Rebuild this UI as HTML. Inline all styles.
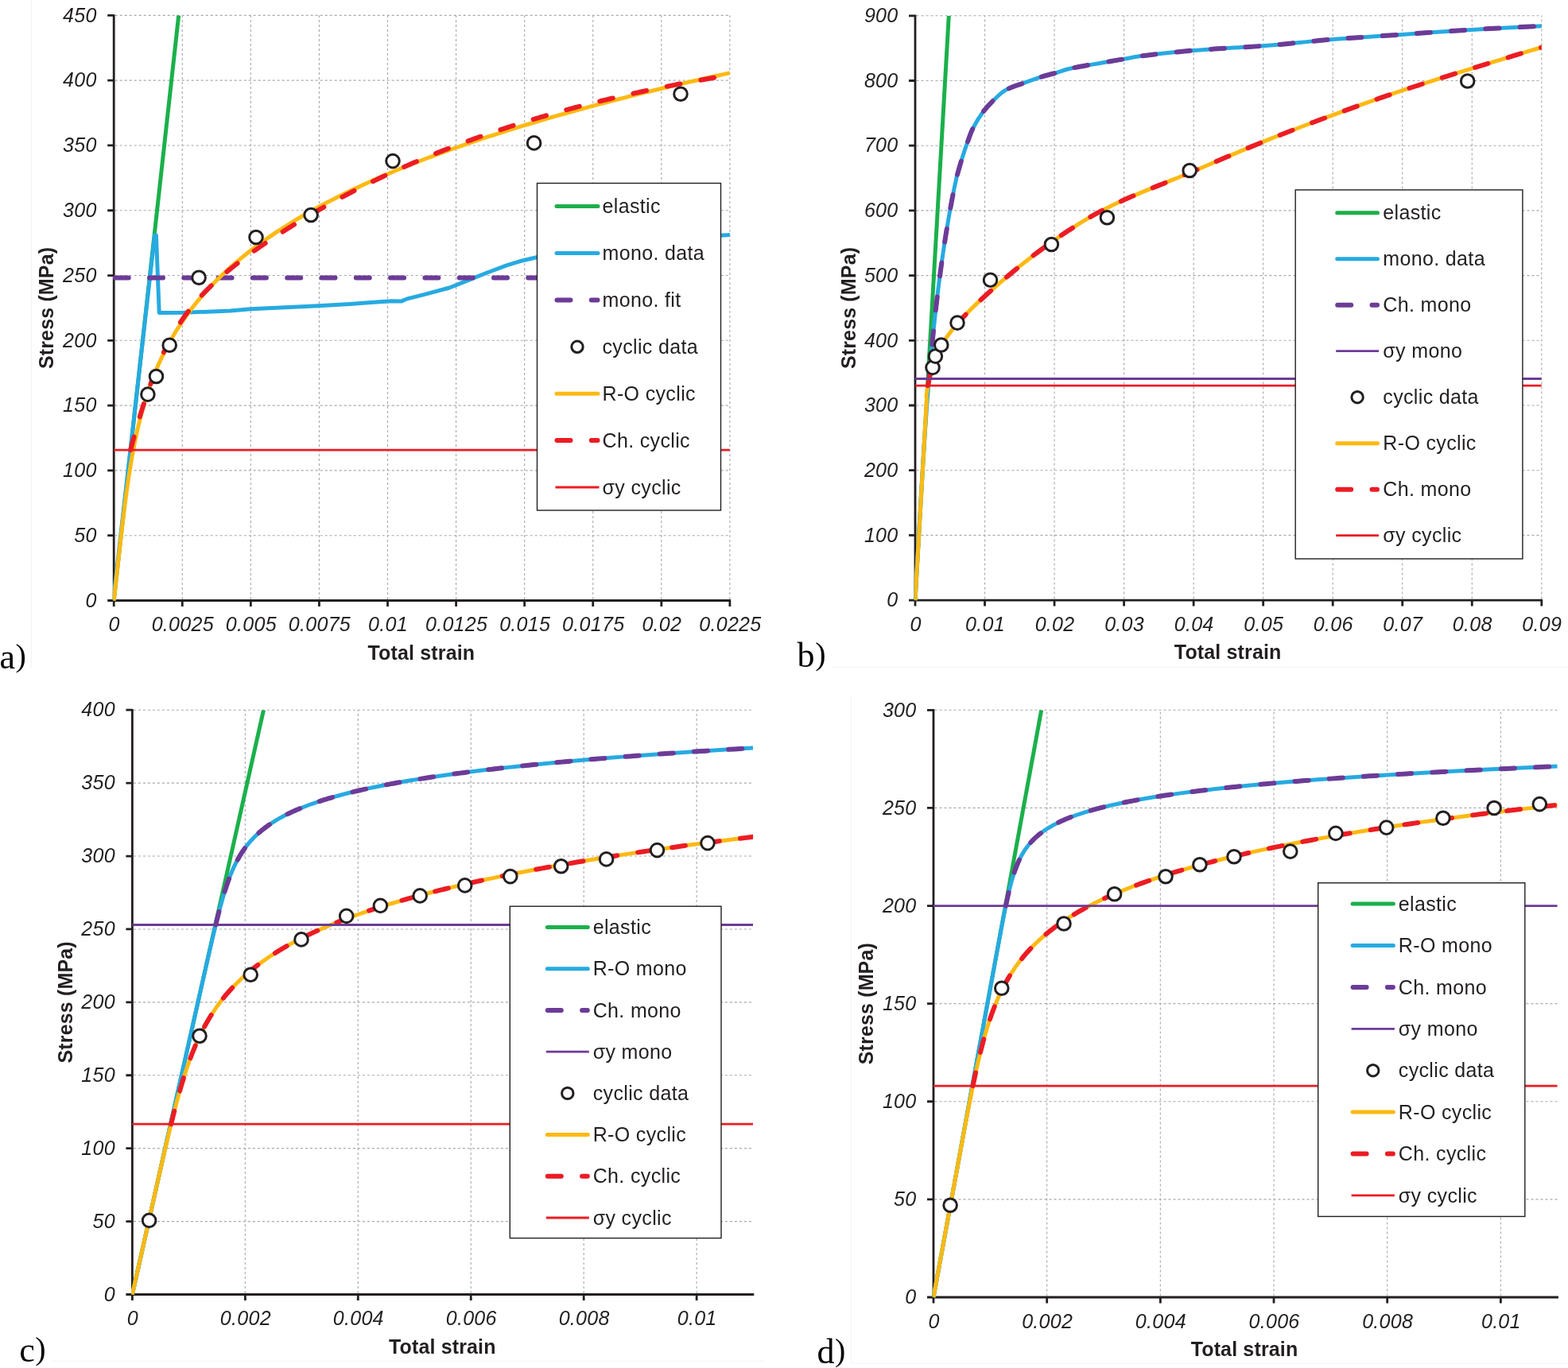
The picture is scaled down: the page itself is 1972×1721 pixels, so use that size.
<!DOCTYPE html>
<html><head><meta charset="utf-8"><title>Stress-strain curves</title>
<style>
html,body{margin:0;padding:0;background:#fff;}
body{width:1972px;height:1721px;overflow:hidden;}
svg{display:block;}
.tick text{font-family:"Liberation Sans",Arial,sans-serif;font-style:italic;font-size:25px;letter-spacing:0.3px;fill:#231f20;}
.ttl{font-family:"Liberation Sans",Arial,sans-serif;font-weight:bold;font-size:25px;letter-spacing:0.15px;fill:#231f20;}
.leg text{font-family:"Liberation Sans",Arial,sans-serif;font-size:25px;letter-spacing:0.35px;fill:#231f20;}
.pl text{font-family:"Liberation Serif","Times New Roman",serif;font-size:44px;fill:#000;}
</style></head><body>
<svg width="1972" height="1721" viewBox="0 0 1972 1721">
<rect width="1972" height="1721" fill="#fff"/>
<defs>
<clipPath id="clipA"><rect x="141.8" y="19.35" width="776.1" height="737.55"/></clipPath>
<clipPath id="clipB"><rect x="1149.6" y="19.8" width="789.2" height="736.7"/></clipPath>
<clipPath id="clipC"><rect x="165" y="893.2" width="782.1" height="736.7"/></clipPath>
<clipPath id="clipD"><rect x="1172.6" y="893.3" width="786.1" height="740.1"/></clipPath>
</defs>
<path d="M39.4 0V840.6M1046 839.3H1972M63.9 1712.3H960M1070.5 873.6V1715.2H1972" stroke="#f3f3f3" stroke-width="1" fill="none"/>
<path d="M144.7 673.71H917.9M144.7 591.91H917.9M144.7 510.12H917.9M144.7 428.32H917.9M144.7 346.53H917.9M144.7 264.73H917.9M144.7 182.94H917.9M144.7 101.14H917.9M144.7 19.35H917.9M229.28 754V19.35M315.36 754V19.35M401.43 754V19.35M487.51 754V19.35M573.59 754V19.35M659.67 754V19.35M745.74 754V19.35M831.82 754V19.35M917.9 754V19.35" stroke="#a6a8ab" stroke-width="1.1" stroke-dasharray="3 3" fill="none"/>
<path d="M143.2 18.15V755.5H919.1M135.2 755.5H143.2M135.2 673.71H143.2M135.2 591.91H143.2M135.2 510.12H143.2M135.2 428.32H143.2M135.2 346.53H143.2M135.2 264.73H143.2M135.2 182.94H143.2M135.2 101.14H143.2M135.2 19.35H143.2M143.2 755.5V763M229.28 755.5V763M315.36 755.5V763M401.43 755.5V763M487.51 755.5V763M573.59 755.5V763M659.67 755.5V763M745.74 755.5V763M831.82 755.5V763M917.9 755.5V763" stroke="#231f20" stroke-width="2.8" fill="none" stroke-linecap="butt" stroke-linejoin="miter"/>
<path d="M143.2 755.5L224.7 19.35" stroke="#1bb04b" stroke-width="5.0" fill="none" stroke-linejoin="round" stroke-linecap="butt" clip-path="url(#clipA)"/>
<path d="M142.5 755.5L194.5 296.3L196.4 296.1L200.2 393.4L230.2 393.3L289.5 391.1L315.4 388.8L400.6 384.7L440 382.4L466.4 380.4L492.7 378.8L504.6 379.1L511.2 376.2L532.3 370.9L565.2 362L585 354.1L611.4 343.5L637.8 333.6L657.5 327.7L674.7 323.7L720 314.5L780 306.5L840 301L901.3 296.4L918.5 295.4" stroke="#27aae1" stroke-width="5.0" fill="none" stroke-linejoin="round" stroke-linecap="butt" clip-path="url(#clipA)"/>
<path d="M144.7 349.5H917.9" stroke="#6c3b97" stroke-width="6.0" fill="none" stroke-linejoin="round" stroke-dasharray="17 26.3" stroke-linecap="round" clip-path="url(#clipA)"/>
<path d="M143.2 755.5L143.47 753.04L143.74 750.58L144.02 748.13L144.29 745.67L144.56 743.21L144.83 740.75L145.1 738.29L145.38 735.84L145.65 733.38L145.92 730.92L146.19 728.46L146.47 726L146.74 723.55L147.01 721.09L147.29 718.63L147.56 716.17L147.83 713.72L148.11 711.26L148.38 708.8L148.65 706.34L148.93 703.88L149.2 701.43L149.48 698.97L149.76 696.51L150.03 694.05L150.31 691.59L150.59 689.14L150.87 686.68L151.15 684.22L151.43 681.76L151.71 679.3L151.99 676.85L152.28 674.39L152.56 671.93L152.85 669.47L153.13 667.01L153.42 664.56L153.71 662.1L154.01 659.64L154.3 657.18L154.6 654.72L154.89 652.27L155.19 649.81L155.5 647.35L155.8 644.89L156.11 642.44L156.42 639.98L156.73 637.52L157.04 635.06L157.36 632.6L157.68 630.15L158.01 627.69L158.33 625.23L158.66 622.77L159 620.31L159.34 617.86L159.68 615.4L160.02 612.94L160.37 610.48L160.73 608.02L161.09 605.57L161.45 603.11L161.82 600.65L162.2 598.19L162.57 595.73L162.96 593.28L163.35 590.82L163.75 588.36L164.15 585.9L164.56 583.44L164.97 580.99L165.39 578.53L165.82 576.07L166.26 573.61L166.7 571.16L167.15 568.7L167.61 566.24L168.08 563.78L168.55 561.32L169.03 558.87L169.52 556.41L170.03 553.95L170.54 551.49L171.05 549.03L171.58 546.58L172.12 544.12L172.67 541.66L173.23 539.2L173.8 536.74L174.38 534.29L174.97 531.83L175.58 529.37L176.19 526.91L176.82 524.45L177.46 522L178.12 519.54L178.78 517.08L179.46 514.62L180.16 512.16L180.86 509.71L181.59 507.25L182.32 504.79L183.07 502.33L183.84 499.88L184.62 497.42L185.42 494.96L186.24 492.5L187.07 490.04L187.92 487.59L188.78 485.13L189.66 482.67L190.57 480.21L191.49 477.75L192.42 475.3L193.38 472.84L194.36 470.38L195.36 467.92L196.37 465.46L197.41 463.01L198.47 460.55L199.55 458.09L200.66 455.63L201.78 453.17L202.93 450.72L204.1 448.26L205.29 445.8L206.51 443.34L207.76 440.88L209.02 438.43L210.32 435.97L211.64 433.51L212.98 431.05L214.35 428.6L215.75 426.14L217.18 423.68L218.63 421.22L220.11 418.76L221.62 416.31L223.16 413.85L224.74 411.39L226.34 408.93L227.97 406.47L229.63 404.02L231.33 401.56L233.05 399.1L233.93 397.87L234.81 396.64L235.71 395.41L236.61 394.18L237.52 392.96L238.43 391.73L239.36 390.5L240.3 389.27L241.24 388.04L242.19 386.81L243.15 385.58L244.12 384.35L245.1 383.12L246.09 381.89L247.09 380.67L248.1 379.44L249.11 378.21L250.14 376.98L251.17 375.75L252.22 374.52L253.27 373.29L254.33 372.06L255.41 370.83L256.49 369.61L257.58 368.38L258.68 367.15L259.8 365.92L260.92 364.69L262.05 363.46L263.19 362.23L264.35 361L265.51 359.77L266.68 358.54L267.87 357.32L269.06 356.09L270.26 354.86L271.48 353.63L272.71 352.4L273.94 351.17L275.19 349.94L276.45 348.71L277.72 347.48L279 346.25L280.29 345.03L281.6 343.8L282.91 342.57L284.24 341.34L285.58 340.11L286.92 338.88L288.29 337.65L289.66 336.42L291.04 335.19L292.44 333.97L293.85 332.74L295.27 331.51L296.7 330.28L298.14 329.05L299.6 327.82L301.07 326.59L302.55 325.36L304.04 324.13L305.55 322.9L307.07 321.68L308.6 320.45L310.15 319.22L311.7 317.99L313.27 316.76L314.86 315.53L316.45 314.3L318.06 313.07L319.69 311.84L321.32 310.61L322.97 309.39L324.64 308.16L326.31 306.93L328 305.7L329.71 304.47L331.43 303.24L333.16 302.01L334.91 300.78L336.67 299.55L338.44 298.33L340.23 297.1L342.03 295.87L343.85 294.64L345.69 293.41L347.53 292.18L349.39 290.95L351.27 289.72L353.16 288.49L355.07 287.26L356.99 286.04L358.93 284.81L360.88 283.58L362.85 282.35L364.83 281.12L366.83 279.89L368.85 278.66L370.88 277.43L372.92 276.2L374.98 274.97L377.06 273.75L379.16 272.52L381.27 271.29L383.39 270.06L385.53 268.83L387.69 267.6L389.87 266.37L392.06 265.14L394.27 263.91L396.5 262.69L398.74 261.46L401 260.23L403.28 259L405.57 257.77L407.88 256.54L410.21 255.31L412.56 254.08L414.92 252.85L417.3 251.62L419.7 250.4L422.12 249.17L424.55 247.94L427.01 246.71L429.48 245.48L431.97 244.25L434.48 243.02L437 241.79L439.55 240.56L442.11 239.33L444.69 238.11L447.29 236.88L449.91 235.65L452.55 234.42L455.21 233.19L457.89 231.96L460.59 230.73L463.3 229.5L466.04 228.27L468.8 227.05L471.57 225.82L474.37 224.59L477.18 223.36L480.02 222.13L482.88 220.9L485.75 219.67L488.65 218.44L491.56 217.21L494.5 215.98L497.46 214.76L500.44 213.53L503.44 212.3L506.46 211.07L509.5 209.84L512.57 208.61L515.65 207.38L518.76 206.15L521.89 204.92L525.04 203.69L528.21 202.47L531.4 201.24L534.62 200.01L537.85 198.78L541.11 197.55L544.39 196.32L547.7 195.09L551.02 193.86L554.37 192.63L557.75 191.41L561.14 190.18L564.56 188.95L568 187.72L571.47 186.49L574.95 185.26L578.46 184.03L582 182.8L585.56 181.57L589.14 180.34L592.75 179.12L596.38 177.89L600.03 176.66L603.71 175.43L607.41 174.2L611.14 172.97L614.89 171.74L618.67 170.51L622.47 169.28L626.3 168.05L630.15 166.83L634.02 165.6L637.93 164.37L641.85 163.14L645.81 161.91L649.78 160.68L653.79 159.45L657.82 158.22L661.87 156.99L665.96 155.77L670.06 154.54L674.2 153.31L678.36 152.08L682.55 150.85L686.76 149.62L691 148.39L695.27 147.16L699.57 145.93L703.89 144.7L708.24 143.48L712.62 142.25L717.02 141.02L721.46 139.79L725.92 138.56L730.4 137.33L734.92 136.1L739.47 134.87L744.04 133.64L748.64 132.41L753.27 131.19L757.93 129.96L762.62 128.73L767.33 127.5L772.08 126.27L776.85 125.04L781.66 123.81L786.49 122.58L791.35 121.35L796.25 120.13L801.17 118.9L806.12 117.67L811.11 116.44L816.12 115.21L821.16 113.98L826.24 112.75L831.34 111.52L836.48 110.29L841.64 109.06L846.84 107.84L852.07 106.61L857.33 105.38L862.62 104.15L867.94 102.92L873.3 101.69L878.68 100.46L884.1 99.23L889.55 98L895.03 96.77L900.55 95.55L906.09 94.32L911.67 93.09L917.29 91.86L917.9 91.73" stroke="#fdb913" stroke-width="5.0" fill="none" stroke-linejoin="round" stroke-linecap="butt" clip-path="url(#clipA)"/>
<path d="M164.17 566.1L164.55 564.65L164.93 563.19L165.31 561.73L165.7 560.27L166.09 558.79L166.48 557.34L166.87 555.86L167.27 554.37L167.67 552.89L168.08 551.4L168.48 549.94L168.88 548.48L169.29 546.98L169.7 545.51L170.11 544.02L170.53 542.52L170.95 541.03L171.37 539.55L171.78 538.1L172.22 536.57L172.65 535.09L173.1 533.53L173.53 532.04L173.99 530.48L174.42 529L174.88 527.47L175.31 526.03L175.75 524.54L176.21 523L176.69 521.41L177.14 519.94L177.61 518.43L178.09 516.88L178.58 515.29L179.04 513.84L179.5 512.35L179.99 510.83L180.48 509.28L180.99 507.69L181.52 506.06L181.99 504.61L182.48 503.14L182.97 501.63L183.48 500.1L184.01 498.54L184.54 496.96L185.09 495.35L185.66 493.71L186.15 492.28L186.66 490.83L187.17 489.37L187.7 487.88L188.24 486.37L188.79 484.85L189.35 483.3L189.92 481.74L190.5 480.15L191.1 478.55L191.71 476.93L192.33 475.29L192.97 473.64L193.62 471.96L194.17 470.55L194.73 469.13L195.3 467.7L195.88 466.25L196.47 464.8L197.07 463.33L197.68 461.85L198.3 460.36L198.93 458.86L199.58 457.35L200.23 455.83L200.89 454.3L201.57 452.76L202.26 451.22L202.96 449.66L203.67 448.09L204.39 446.52L205.12 444.94L205.87 443.35L206.63 441.75L207.41 440.15L208.19 438.54L208.99 436.92L209.81 435.29L210.63 433.66L211.47 432.03L212.33 430.39L213.2 428.74L214.08 427.09L214.8 425.77L215.53 424.45L216.27 423.12L217.02 421.79L217.78 420.46L218.55 419.12L219.33 417.79L220.12 416.45L220.92 415.11L221.73 413.77L222.55 412.42L223.39 411.08L224.23 409.74L225.09 408.39L225.96 407.04L226.84 405.7L227.73 404.35L228.64 403L229.56 401.65L230.49 400.3L231.43 398.95L232.39 397.6L233.36 396.25L234.35 394.9L235.35 393.55L236.36 392.2L237.38 390.85L238.43 389.49L239.48 388.14L240.55 386.79L241.64 385.44L242.74 384.08L243.86 382.73L245 381.37L246.15 380.02L247.31 378.66L248.5 377.31L249.7 375.95L250.92 374.59L252.16 373.23L253.41 371.87L254.68 370.51L255.98 369.14L257.29 367.77L258.62 366.41L259.97 365.04L261.34 363.66L262.73 362.29L264.14 360.91L265.58 359.52L266.67 358.48L267.77 357.44L268.88 356.4L270.01 355.35L271.15 354.31L272.3 353.26L273.47 352.2L274.65 351.15L275.84 350.09L277.04 349.03L278.26 347.96L279.5 346.89L280.75 345.82L282.01 344.74L283.29 343.67L284.58 342.58L285.88 341.5L287.21 340.4L288.54 339.31L289.9 338.21L291.27 337.1L292.65 336L294.05 334.88L295.47 333.76L296.9 332.64L298.35 331.51L299.82 330.38L301.31 329.24L302.81 328.09L304.33 326.94L305.87 325.78L307.43 324.62L309 323.45L310.59 322.27L312.21 321.09L313.84 319.9L315.49 318.71L317.16 317.51L318.85 316.3L320.56 315.08L322.29 313.86L324.04 312.63L325.81 311.39L327.61 310.14L329.42 308.89L331.26 307.63L333.11 306.36L334.37 305.51L335.63 304.66L336.9 303.8L338.18 302.94L339.47 302.08L340.77 301.21L342.08 300.34L343.41 299.46L344.74 298.58L346.08 297.7L347.44 296.82L348.8 295.93L350.18 295.03L351.56 294.14L352.96 293.23L354.37 292.33L355.79 291.42L357.22 290.51L358.66 289.59L360.12 288.67L361.58 287.75L363.06 286.82L364.55 285.89L366.05 284.95L367.57 284.01L369.09 283.07L370.63 282.12L372.18 281.17L373.74 280.22L375.31 279.26L376.9 278.3L378.5 277.33L380.11 276.36L381.74 275.39L383.38 274.41L385.03 273.43L386.69 272.44L388.37 271.45L390.06 270.46L391.77 269.46L393.48 268.46L395.22 267.45L396.96 266.44L398.72 265.43L400.49 264.42L402.28 263.39L404.08 262.37L405.9 261.34L407.73 260.31L409.58 259.28L411.44 258.24L413.31 257.19L415.2 256.15L417.1 255.1L419.02 254.04L420.96 252.99L422.91 251.93L424.88 250.86L426.86 249.79L428.86 248.72L430.87 247.65L432.9 246.57L434.94 245.49L437.01 244.4L439.08 243.31L441.18 242.22L443.29 241.13L445.42 240.03L447.56 238.93L449.72 237.82L451.9 236.71L454.1 235.6L456.31 234.49L458.55 233.37L460.8 232.25L463.06 231.13L465.35 230L467.65 228.87L469.97 227.74L472.31 226.61L474.67 225.47L477.05 224.33L479.45 223.19L481.86 222.04L484.3 220.9L486.75 219.75L489.22 218.59L491.72 217.44L494.23 216.28L496.76 215.12L499.31 213.96L501.89 212.8L504.48 211.63L507.09 210.46L509.73 209.29L512.38 208.12L515.06 206.95L517.76 205.77L520.48 204.59L523.22 203.41L525.98 202.23L527.37 201.64L528.76 201.05L530.16 200.46L531.57 199.87L532.98 199.28L534.4 198.68L535.82 198.09L537.25 197.5L538.68 196.9L540.12 196.31L541.57 195.71L543.02 195.12L544.48 194.52L545.94 193.93L547.41 193.33L548.88 192.74L550.36 192.14L551.85 191.55L553.34 190.95L554.84 190.35L556.34 189.76L557.85 189.16L559.36 188.56L560.89 187.96L562.41 187.37L563.95 186.77L565.49 186.17L567.03 185.57L568.58 184.97L570.14 184.37L571.71 183.78L573.28 183.18L574.85 182.58L576.43 181.98L578.02 181.38L579.62 180.78L581.22 180.18L582.83 179.58L584.44 178.98L586.06 178.38L587.69 177.78L589.32 177.19L590.96 176.59L592.61 175.99L594.26 175.39L595.92 174.79L597.59 174.19L599.26 173.59L600.94 172.99L602.62 172.39L604.32 171.79L606.01 171.19L607.72 170.59L609.43 170L611.15 169.4L612.88 168.8L614.61 168.2L616.35 167.6L618.1 167L619.85 166.41L621.61 165.81L623.38 165.21L625.15 164.61L626.93 164.02L628.72 163.42L630.52 162.82L632.32 162.23L634.13 161.63L635.95 161.03L637.77 160.44L639.6 159.84L641.44 159.25L643.28 158.65L645.14 158.06L647 157.46L648.87 156.87L650.74 156.28L652.62 155.68L654.51 155.09L656.41 154.5L658.32 153.91L660.23 153.32L662.15 152.73L664.07 152.13L666.01 151.54L667.95 150.96L669.9 150.37L671.86 149.78L673.83 149.19L675.8 148.6L677.78 148.01L679.77 147.43L681.77 146.84L683.77 146.26L685.79 145.67L687.81 145.09L689.84 144.5L691.87 143.92L693.92 143.34L695.97 142.76L698.03 142.17L700.1 141.59L702.18 141.01L704.27 140.43L706.36 139.86L708.46 139.28L710.57 138.7L712.69 138.12L714.82 137.55L716.95 136.97L719.1 136.4L721.25 135.82L723.41 135.25L725.58 134.68L727.76 134.11L729.95 133.54L732.14 132.97L734.35 132.4L736.56 131.83L738.78 131.26L741.01 130.7L743.25 130.13L745.5 129.57L747.76 129.01L750.02 128.44L752.3 127.88L754.58 127.32L756.88 126.76L759.18 126.2L761.49 125.64L763.81 125.09L766.14 124.53L768.48 123.98L770.83 123.42L773.18 122.87L775.55 122.32L777.93 121.77L780.31 121.22L782.71 120.67L785.11 120.12L787.53 119.58L789.95 119.03L792.38 118.49L794.83 117.94L797.28 117.4L799.74 116.86L802.21 116.32L804.7 115.78L807.19 115.25L809.69 114.71L812.2 114.18L814.72 113.64L817.25 113.11L819.79 112.58L822.35 112.05L824.91 111.52L827.48 110.99L830.06 110.47L832.65 109.94L835.26 109.42L837.87 108.9L840.49 108.38L843.13 107.86L845.77 107.34L848.43 106.83L851.09 106.31L853.77 105.8L856.45 105.28L859.15 104.77L861.86 104.26L864.58 103.76L867.31 103.25L870.05 102.74L872.8 102.24L875.56 101.74L878.33 101.24L881.12 100.74L883.91 100.24L886.72 99.75L889.54 99.25L892.37 98.76L895.21 98.27L898.06 97.78L900.92 97.29L903.79 96.8L906.68 96.32L909.58 95.83L912.48 95.35L915.4 94.87L917.9 94.46" stroke="#ec1c24" stroke-width="6.0" fill="none" stroke-linejoin="round" stroke-dasharray="17 26.3" stroke-linecap="round" clip-path="url(#clipA)"/>
<path d="M143.2 566.1H917.9" stroke="#ec1c24" stroke-width="2.8" fill="none" clip-path="url(#clipA)"/>
<g fill="#fff" stroke="#231f20" stroke-width="3"><circle cx="185.9" cy="496.1" r="8.3"/><circle cx="196.5" cy="473.5" r="8.3"/><circle cx="213.2" cy="434.2" r="8.3"/><circle cx="250.1" cy="349.2" r="8.3"/><circle cx="322" cy="298.5" r="8.3"/><circle cx="391.1" cy="270.5" r="8.3"/><circle cx="494" cy="202.6" r="8.3"/><circle cx="671.6" cy="179.9" r="8.3"/><circle cx="856" cy="118.3" r="8.3"/></g>
<g class="tick"><text x="121.7" y="763.7" text-anchor="end">0</text><text x="121.7" y="681.91" text-anchor="end">50</text><text x="121.7" y="600.11" text-anchor="end">100</text><text x="121.7" y="518.32" text-anchor="end">150</text><text x="121.7" y="436.52" text-anchor="end">200</text><text x="121.7" y="354.73" text-anchor="end">250</text><text x="121.7" y="272.93" text-anchor="end">300</text><text x="121.7" y="191.14" text-anchor="end">350</text><text x="121.7" y="109.34" text-anchor="end">400</text><text x="121.7" y="27.55" text-anchor="end">450</text><text x="143.7" y="794" text-anchor="middle">0</text><text x="229.78" y="794" text-anchor="middle">0.0025</text><text x="315.86" y="794" text-anchor="middle">0.005</text><text x="401.93" y="794" text-anchor="middle">0.0075</text><text x="488.01" y="794" text-anchor="middle">0.01</text><text x="574.09" y="794" text-anchor="middle">0.0125</text><text x="660.17" y="794" text-anchor="middle">0.015</text><text x="746.24" y="794" text-anchor="middle">0.0175</text><text x="832.32" y="794" text-anchor="middle">0.02</text><text x="918.4" y="794" text-anchor="middle">0.0225</text></g>
<text class="ttl" x="529.9" y="829.8" text-anchor="middle">Total strain</text>
<text class="ttl" transform="translate(67.4 387.43) rotate(-90)" text-anchor="middle">Stress (MPa)</text>
<rect x="675.5" y="230.5" width="231" height="411.5" fill="#fff" stroke="#231f20" stroke-width="1.4"/>
<path d="M700 259.6H752" stroke="#1bb04b" stroke-width="5.0" stroke-linecap="round"/>
<path d="M700 318.5H752" stroke="#27aae1" stroke-width="5.0" stroke-linecap="round"/>
<path d="M700.5 377.4H751.5" stroke="#6c3b97" stroke-width="6.0" stroke-linecap="round" stroke-dasharray="17 26.3"/>
<circle cx="726" cy="436.3" r="7.2" fill="#fff" stroke="#231f20" stroke-width="3"/>
<path d="M700 495.2H752" stroke="#fdb913" stroke-width="5.0" stroke-linecap="round"/>
<path d="M700.5 554.1H751.5" stroke="#ec1c24" stroke-width="6.0" stroke-linecap="round" stroke-dasharray="17 26.3"/>
<path d="M698.5 613H753.5" stroke="#ec1c24" stroke-width="2.8"/>
<g class="leg"><text x="757.5" y="268.2">elastic</text><text x="757.5" y="327.1">mono. data</text><text x="757.5" y="386">mono. fit</text><text x="757.5" y="444.9">cyclic data</text><text x="757.5" y="503.8">R-O cyclic</text><text x="757.5" y="562.7">Ch. cyclic</text><text x="757.5" y="621.6">σy cyclic</text></g>
<path d="M1152.5 673.4H1938.8M1152.5 591.7H1938.8M1152.5 510H1938.8M1152.5 428.3H1938.8M1152.5 346.6H1938.8M1152.5 264.9H1938.8M1152.5 183.2H1938.8M1152.5 101.5H1938.8M1152.5 19.8H1938.8M1238.53 753.6V19.8M1326.07 753.6V19.8M1413.6 753.6V19.8M1501.13 753.6V19.8M1588.67 753.6V19.8M1676.2 753.6V19.8M1763.73 753.6V19.8M1851.27 753.6V19.8M1938.8 753.6V19.8" stroke="#a6a8ab" stroke-width="1.1" stroke-dasharray="3 3" fill="none"/>
<path d="M1151 18.6V755.1H1940M1143 755.1H1151M1143 673.4H1151M1143 591.7H1151M1143 510H1151M1143 428.3H1151M1143 346.6H1151M1143 264.9H1151M1143 183.2H1151M1143 101.5H1151M1143 19.8H1151M1151 755.1V762.6M1238.53 755.1V762.6M1326.07 755.1V762.6M1413.6 755.1V762.6M1501.13 755.1V762.6M1588.67 755.1V762.6M1676.2 755.1V762.6M1763.73 755.1V762.6M1851.27 755.1V762.6M1938.8 755.1V762.6" stroke="#231f20" stroke-width="2.8" fill="none" stroke-linecap="butt" stroke-linejoin="miter"/>
<path d="M1151 755.1L1193.3 19.8" stroke="#1bb04b" stroke-width="5.0" fill="none" stroke-linejoin="round" stroke-linecap="butt" clip-path="url(#clipB)"/>
<path d="M1151 755.1C1151.02 754.81 1151.06 753.96 1151.09 753.38C1151.12 752.81 1151.15 752.24 1151.19 751.67C1151.22 751.1 1151.25 750.52 1151.28 749.95C1151.31 749.38 1151.34 748.81 1151.37 748.23C1151.4 747.66 1151.43 747.09 1151.46 746.52C1151.5 745.95 1151.53 745.37 1151.56 744.8C1151.59 744.23 1151.62 743.66 1151.65 743.09C1151.68 742.51 1151.71 741.94 1151.74 741.37C1151.77 740.8 1151.81 740.23 1151.84 739.65C1151.87 739.08 1151.9 738.51 1151.93 737.94C1151.96 737.37 1151.99 736.79 1152.02 736.22C1152.05 735.65 1152.08 735.08 1152.12 734.5C1152.15 733.93 1152.18 733.36 1152.21 732.79C1152.24 732.22 1152.27 731.64 1152.3 731.07C1152.33 730.5 1152.36 729.93 1152.39 729.36C1152.43 728.78 1152.46 728.21 1152.49 727.64C1152.52 727.07 1152.55 726.5 1152.58 725.92C1152.61 725.35 1152.64 724.78 1152.67 724.21C1152.7 723.64 1152.74 723.06 1152.77 722.49C1152.8 721.92 1152.83 721.35 1152.86 720.77C1152.89 720.2 1152.92 719.63 1152.95 719.06C1152.98 718.49 1153.02 717.91 1153.05 717.34C1153.08 716.77 1153.11 716.2 1153.14 715.63C1153.17 715.05 1153.2 714.48 1153.23 713.91C1153.26 713.34 1153.3 712.77 1153.33 712.19C1153.36 711.62 1153.39 711.05 1153.42 710.48C1153.45 709.9 1153.48 709.33 1153.51 708.76C1153.54 708.19 1153.58 707.62 1153.61 707.04C1153.64 706.47 1153.67 705.9 1153.7 705.33C1153.73 704.76 1153.76 704.18 1153.79 703.61C1153.83 703.04 1153.86 702.47 1153.89 701.9C1153.92 701.32 1153.95 700.75 1153.98 700.18C1154.01 699.61 1154.04 699.04 1154.08 698.46C1154.11 697.89 1154.14 697.32 1154.17 696.75C1154.2 696.17 1154.23 695.6 1154.26 695.03C1154.29 694.46 1154.33 693.89 1154.36 693.31C1154.39 692.74 1154.42 692.17 1154.45 691.6C1154.48 691.03 1154.51 690.45 1154.55 689.88C1154.58 689.31 1154.61 688.74 1154.64 688.17C1154.67 687.59 1154.7 687.02 1154.73 686.45C1154.77 685.88 1154.8 685.3 1154.83 684.73C1154.86 684.16 1154.89 683.59 1154.92 683.02C1154.95 682.44 1154.99 681.87 1155.02 681.3C1155.05 680.73 1155.08 680.16 1155.11 679.58C1155.14 679.01 1155.18 678.44 1155.21 677.87C1155.24 677.3 1155.27 676.72 1155.3 676.15C1155.33 675.58 1155.37 675.01 1155.4 674.44C1155.43 673.86 1155.46 673.29 1155.49 672.72C1155.52 672.15 1155.56 671.57 1155.59 671C1155.62 670.43 1155.65 669.86 1155.68 669.29C1155.71 668.71 1155.75 668.14 1155.78 667.57C1155.81 667 1155.84 666.43 1155.87 665.85C1155.91 665.28 1155.94 664.71 1155.97 664.14C1156 663.57 1156.03 662.99 1156.07 662.42C1156.1 661.85 1156.13 661.28 1156.16 660.71C1156.19 660.13 1156.23 659.56 1156.26 658.99C1156.29 658.42 1156.32 657.84 1156.35 657.27C1156.39 656.7 1156.42 656.13 1156.45 655.56C1156.48 654.98 1156.52 654.41 1156.55 653.84C1156.58 653.27 1156.61 652.7 1156.64 652.12C1156.68 651.55 1156.71 650.98 1156.74 650.41C1156.77 649.84 1156.81 649.26 1156.84 648.69C1156.87 648.12 1156.9 647.55 1156.94 646.97C1156.97 646.4 1157 645.83 1157.03 645.26C1157.07 644.69 1157.1 644.11 1157.13 643.54C1157.16 642.97 1157.2 642.4 1157.23 641.83C1157.26 641.25 1157.3 640.68 1157.33 640.11C1157.36 639.54 1157.39 638.97 1157.43 638.39C1157.46 637.82 1157.49 637.25 1157.52 636.68C1157.56 636.11 1157.59 635.53 1157.62 634.96C1157.66 634.39 1157.69 633.82 1157.72 633.24C1157.76 632.67 1157.79 632.1 1157.82 631.53C1157.86 630.96 1157.89 630.38 1157.92 629.81C1157.95 629.24 1157.99 628.67 1158.02 628.1C1158.05 627.52 1158.09 626.95 1158.12 626.38C1158.15 625.81 1158.19 625.24 1158.22 624.66C1158.25 624.09 1158.29 623.52 1158.32 622.95C1158.36 622.37 1158.39 621.8 1158.42 621.23C1158.46 620.66 1158.49 620.09 1158.52 619.51C1158.56 618.94 1158.59 618.37 1158.62 617.8C1158.66 617.23 1158.69 616.65 1158.73 616.08C1158.76 615.51 1158.79 614.94 1158.83 614.37C1158.86 613.79 1158.9 613.22 1158.93 612.65C1158.96 612.08 1159 611.51 1159.03 610.93C1159.07 610.36 1159.1 609.79 1159.13 609.22C1159.17 608.64 1159.2 608.07 1159.24 607.5C1159.27 606.93 1159.31 606.36 1159.34 605.78C1159.38 605.21 1159.41 604.64 1159.44 604.07C1159.48 603.5 1159.51 602.92 1159.55 602.35C1159.58 601.78 1159.62 601.21 1159.65 600.64C1159.69 600.06 1159.72 599.49 1159.76 598.92C1159.79 598.35 1159.83 597.78 1159.86 597.2C1159.9 596.63 1159.93 596.06 1159.97 595.49C1160 594.91 1160.04 594.34 1160.07 593.77C1160.11 593.2 1160.14 592.63 1160.18 592.05C1160.21 591.48 1160.25 590.91 1160.28 590.34C1160.32 589.77 1160.35 589.19 1160.39 588.62C1160.43 588.05 1160.46 587.48 1160.5 586.91C1160.53 586.33 1160.57 585.76 1160.6 585.19C1160.64 584.62 1160.68 584.04 1160.71 583.47C1160.75 582.9 1160.78 582.33 1160.82 581.76C1160.86 581.18 1160.89 580.61 1160.93 580.04C1160.96 579.47 1161 578.9 1161.04 578.32C1161.07 577.75 1161.11 577.18 1161.15 576.61C1161.18 576.04 1161.22 575.46 1161.25 574.89C1161.29 574.32 1161.33 573.75 1161.36 573.18C1161.4 572.6 1161.44 572.03 1161.47 571.46C1161.51 570.89 1161.55 570.31 1161.59 569.74C1161.62 569.17 1161.66 568.6 1161.7 568.03C1161.73 567.45 1161.77 566.88 1161.81 566.31C1161.85 565.74 1161.88 565.17 1161.92 564.59C1161.96 564.02 1162 563.45 1162.03 562.88C1162.07 562.31 1162.11 561.73 1162.15 561.16C1162.18 560.59 1162.22 560.02 1162.26 559.44C1162.3 558.87 1162.33 558.3 1162.37 557.73C1162.41 557.16 1162.45 556.58 1162.49 556.01C1162.53 555.44 1162.56 554.87 1162.6 554.3C1162.64 553.72 1162.68 553.15 1162.72 552.58C1162.76 552.01 1162.79 551.44 1162.83 550.86C1162.87 550.29 1162.91 549.72 1162.95 549.15C1162.99 548.58 1163.03 548 1163.07 547.43C1163.1 546.86 1163.14 546.29 1163.18 545.71C1163.22 545.14 1163.26 544.57 1163.3 544C1163.34 543.43 1163.38 542.85 1163.42 542.28C1163.46 541.71 1163.5 541.14 1163.54 540.57C1163.58 539.99 1163.62 539.42 1163.66 538.85C1163.7 538.28 1163.74 537.71 1163.78 537.13C1163.82 536.56 1163.86 535.99 1163.9 535.42C1163.94 534.85 1163.98 534.27 1164.02 533.7C1164.06 533.13 1164.1 532.56 1164.14 531.98C1164.18 531.41 1164.22 530.84 1164.26 530.27C1164.3 529.7 1164.34 529.12 1164.38 528.55C1164.42 527.98 1164.47 527.41 1164.51 526.84C1164.55 526.26 1164.59 525.69 1164.63 525.12C1164.67 524.55 1164.71 523.98 1164.75 523.4C1164.8 522.83 1164.84 522.26 1164.88 521.69C1164.92 521.11 1164.96 520.54 1165.01 519.97C1165.05 519.4 1165.09 518.83 1165.13 518.25C1165.17 517.68 1165.22 517.11 1165.26 516.54C1165.3 515.97 1165.34 515.39 1165.39 514.82C1165.43 514.25 1165.47 513.68 1165.51 513.11C1165.56 512.53 1165.6 511.96 1165.64 511.39C1165.69 510.82 1165.73 510.25 1165.77 509.67C1165.81 509.1 1165.86 508.53 1165.9 507.96C1165.94 507.38 1165.99 506.81 1166.03 506.24C1166.08 505.67 1166.12 505.1 1166.16 504.52C1166.21 503.95 1166.25 503.38 1166.3 502.81C1166.34 502.24 1166.38 501.66 1166.43 501.09C1166.47 500.52 1166.52 499.95 1166.56 499.38C1166.61 498.8 1166.65 498.23 1166.7 497.66C1166.74 497.09 1166.78 496.52 1166.83 495.94C1166.87 495.37 1166.92 494.8 1166.97 494.23C1167.01 493.65 1167.06 493.08 1167.1 492.51C1167.15 491.94 1167.19 491.37 1167.24 490.79C1167.28 490.22 1167.33 489.65 1167.38 489.08C1167.42 488.51 1167.47 487.93 1167.51 487.36C1167.56 486.79 1167.61 486.22 1167.65 485.65C1167.7 485.07 1167.75 484.5 1167.79 483.93C1167.84 483.36 1167.89 482.78 1167.93 482.21C1167.98 481.64 1168.03 481.07 1168.07 480.5C1168.12 479.92 1168.17 479.35 1168.22 478.78C1168.26 478.21 1168.31 477.64 1168.36 477.06C1168.41 476.49 1168.46 475.92 1168.5 475.35C1168.55 474.78 1168.6 474.2 1168.65 473.63C1168.7 473.06 1168.74 472.49 1168.79 471.92C1168.84 471.34 1168.89 470.77 1168.94 470.2C1168.99 469.63 1169.04 469.05 1169.09 468.48C1169.14 467.91 1169.18 467.34 1169.23 466.77C1169.28 466.19 1169.33 465.62 1169.38 465.05C1169.43 464.48 1169.48 463.91 1169.53 463.33C1169.58 462.76 1169.63 462.19 1169.68 461.62C1169.73 461.05 1169.78 460.47 1169.83 459.9C1169.88 459.33 1169.93 458.76 1169.99 458.18C1170.04 457.61 1170.09 457.04 1170.14 456.47C1170.19 455.9 1170.24 455.32 1170.29 454.75C1170.34 454.18 1170.39 453.61 1170.45 453.04C1170.5 452.46 1170.55 451.89 1170.6 451.32C1170.65 450.75 1170.71 450.18 1170.76 449.6C1170.81 449.03 1170.86 448.46 1170.92 447.89C1170.97 447.32 1171.02 446.74 1171.07 446.17C1171.13 445.6 1171.18 445.03 1171.23 444.45C1171.29 443.88 1171.34 443.31 1171.39 442.74C1171.45 442.17 1171.5 441.59 1171.55 441.02C1171.61 440.45 1171.66 439.88 1171.72 439.31C1171.77 438.73 1171.82 438.16 1171.88 437.59C1171.93 437.02 1171.99 436.45 1172.04 435.87C1172.1 435.3 1172.15 434.73 1172.21 434.16C1172.26 433.59 1172.32 433.01 1172.37 432.44C1172.43 431.87 1172.48 431.3 1172.54 430.72C1172.6 430.15 1172.65 429.58 1172.71 429.01C1172.76 428.44 1172.82 427.86 1172.88 427.29C1172.93 426.72 1172.99 426.15 1173.05 425.58C1173.1 425 1173.16 424.43 1173.22 423.86C1173.28 423.29 1173.33 422.72 1173.39 422.14C1173.45 421.57 1173.51 421 1173.56 420.43C1173.62 419.85 1173.68 419.28 1173.74 418.71C1173.8 418.14 1173.85 417.57 1173.91 416.99C1173.97 416.42 1174.03 415.85 1174.09 415.28C1174.15 414.71 1174.21 414.13 1174.27 413.56C1174.33 412.99 1174.38 412.42 1174.44 411.85C1174.5 411.27 1174.56 410.7 1174.62 410.13C1174.68 409.56 1174.74 408.99 1174.8 408.41C1174.86 407.84 1174.93 407.27 1174.99 406.7C1175.05 406.12 1175.11 405.55 1175.17 404.98C1175.23 404.41 1175.29 403.84 1175.35 403.26C1175.41 402.69 1175.48 402.12 1175.54 401.55C1175.6 400.98 1175.66 400.4 1175.72 399.83C1175.79 399.26 1175.85 398.69 1175.91 398.12C1175.97 397.54 1176.04 396.97 1176.1 396.4C1176.16 395.83 1176.23 395.25 1176.29 394.68C1176.35 394.11 1176.42 393.54 1176.48 392.97C1176.54 392.39 1176.61 391.82 1176.67 391.25C1176.74 390.68 1176.8 390.11 1176.87 389.53C1176.93 388.96 1176.99 388.39 1177.06 387.82C1177.12 387.25 1177.19 386.67 1177.26 386.1C1177.32 385.53 1177.39 384.96 1177.45 384.39C1177.52 383.81 1177.58 383.24 1177.65 382.67C1177.72 382.1 1177.78 381.52 1177.85 380.95C1177.92 380.38 1177.98 379.81 1178.05 379.24C1178.12 378.66 1178.18 378.09 1178.25 377.52C1178.32 376.95 1178.39 376.38 1178.45 375.8C1178.52 375.23 1178.59 374.66 1178.66 374.09C1178.73 373.52 1178.8 372.94 1178.86 372.37C1178.93 371.8 1179 371.23 1179.07 370.66C1179.14 370.08 1179.21 369.51 1179.28 368.94C1179.35 368.37 1179.42 367.79 1179.49 367.22C1179.56 366.65 1179.63 366.08 1179.7 365.51C1179.77 364.93 1179.84 364.36 1179.91 363.79C1179.98 363.22 1180.05 362.65 1180.13 362.07C1180.2 361.5 1180.27 360.93 1180.34 360.36C1180.41 359.79 1180.48 359.21 1180.56 358.64C1180.63 358.07 1180.7 357.5 1180.77 356.92C1180.85 356.35 1180.92 355.78 1180.99 355.21C1181.07 354.64 1181.14 354.06 1181.21 353.49C1181.29 352.92 1181.36 352.35 1181.44 351.78C1181.51 351.2 1181.58 350.63 1181.66 350.06C1181.73 349.49 1181.81 348.92 1181.88 348.34C1181.96 347.77 1182.03 347.2 1182.11 346.63C1182.19 346.06 1182.26 345.48 1182.34 344.91C1182.41 344.34 1182.49 343.77 1182.57 343.19C1182.64 342.62 1182.72 342.05 1182.8 341.48C1182.87 340.91 1182.95 340.33 1183.03 339.76C1183.11 339.19 1183.18 338.62 1183.26 338.05C1183.34 337.47 1183.42 336.9 1183.5 336.33C1183.57 335.76 1183.65 335.19 1183.73 334.61C1183.81 334.04 1183.89 333.47 1183.97 332.9C1184.05 332.32 1184.13 331.75 1184.21 331.18C1184.29 330.61 1184.37 330.04 1184.45 329.46C1184.53 328.89 1184.61 328.32 1184.69 327.75C1184.77 327.18 1184.85 326.6 1184.94 326.03C1185.02 325.46 1185.1 324.89 1185.18 324.32C1185.26 323.74 1185.35 323.17 1185.43 322.6C1185.51 322.03 1185.59 321.46 1185.68 320.88C1185.76 320.31 1185.84 319.74 1185.93 319.17C1186.01 318.59 1186.09 318.02 1186.18 317.45C1186.26 316.88 1186.35 316.31 1186.43 315.73C1186.52 315.16 1186.6 314.59 1186.69 314.02C1186.77 313.45 1186.86 312.87 1186.94 312.3C1187.03 311.73 1187.12 311.16 1187.2 310.59C1187.29 310.01 1187.37 309.44 1187.46 308.87C1187.55 308.3 1187.64 307.73 1187.72 307.15C1187.81 306.58 1187.9 306.01 1187.99 305.44C1188.07 304.86 1188.16 304.29 1188.25 303.72C1188.34 303.15 1188.43 302.58 1188.52 302C1188.61 301.43 1188.7 300.86 1188.79 300.29C1188.88 299.72 1188.97 299.14 1189.06 298.57C1189.15 298 1189.24 297.43 1189.33 296.86C1189.42 296.28 1189.51 295.71 1189.6 295.14C1189.69 294.57 1189.79 293.99 1189.88 293.42C1189.97 292.85 1190.06 292.28 1190.16 291.71C1190.25 291.13 1190.34 290.56 1190.43 289.99C1190.53 289.42 1190.62 288.85 1190.72 288.27C1190.81 287.7 1190.9 287.13 1191 286.56C1191.09 285.99 1191.19 285.41 1191.28 284.84C1191.38 284.27 1191.47 283.7 1191.57 283.13C1191.67 282.55 1191.76 281.98 1191.86 281.41C1191.95 280.84 1192.05 280.26 1192.15 279.69C1192.25 279.12 1192.34 278.55 1192.44 277.98C1192.54 277.4 1192.64 276.83 1192.74 276.26C1192.83 275.69 1192.93 275.12 1193.03 274.54C1193.13 273.97 1193.23 273.4 1193.33 272.83C1193.43 272.26 1193.53 271.68 1193.63 271.11C1193.73 270.54 1193.83 269.97 1193.94 269.39C1194.04 268.82 1194.14 268.25 1194.24 267.68C1194.34 267.11 1194.44 266.53 1194.55 265.96C1194.65 265.39 1194.75 264.82 1194.86 264.25C1194.96 263.67 1195.06 263.1 1195.17 262.53C1195.27 261.96 1195.38 261.39 1195.48 260.81C1195.59 260.24 1195.69 259.67 1195.8 259.1C1195.91 258.53 1196.01 257.95 1196.12 257.38C1196.22 256.81 1196.33 256.24 1196.44 255.66C1196.55 255.09 1196.65 254.52 1196.76 253.95C1196.87 253.38 1196.98 252.8 1197.09 252.23C1197.2 251.66 1197.31 251.09 1197.42 250.52C1197.53 249.94 1197.64 249.37 1197.75 248.8C1197.86 248.23 1197.97 247.66 1198.08 247.08C1198.2 246.51 1198.31 245.94 1198.42 245.37C1198.53 244.8 1198.66 244.18 1198.76 243.65C1198.87 243.12 1198.96 242.67 1199.06 242.18C1199.15 241.69 1199.25 241.2 1199.35 240.71C1199.45 240.22 1199.55 239.73 1199.65 239.24C1199.75 238.75 1199.85 238.26 1199.95 237.77C1200.05 237.28 1200.15 236.79 1200.25 236.3C1200.35 235.81 1200.46 235.31 1200.56 234.82C1200.66 234.33 1200.76 233.84 1200.87 233.35C1200.97 232.86 1201.07 232.37 1201.18 231.88C1201.28 231.39 1201.39 230.9 1201.49 230.41C1201.6 229.92 1201.7 229.43 1201.81 228.94C1201.91 228.45 1202.02 227.96 1202.13 227.47C1202.23 226.98 1202.34 226.49 1202.45 226C1202.56 225.51 1202.57 225.43 1202.77 224.53C1202.98 223.63 1202.48 224.89 1203.7 220.6C1204.92 216.31 1207.97 205.62 1210.1 198.8C1212.23 191.98 1214.17 186.08 1216.5 179.7C1218.83 173.32 1220.7 167.1 1224.1 160.5C1227.5 153.9 1232.63 145.85 1236.9 140.1C1241.17 134.35 1245.02 130.48 1249.7 126C1254.38 121.52 1258.62 116.82 1265 113.2C1271.38 109.58 1280.55 107.07 1288 104.3C1295.45 101.53 1302.88 98.73 1309.7 96.6C1316.52 94.47 1322.15 93.38 1328.9 91.5C1335.65 89.62 1336.05 88.18 1350.2 85.3C1364.35 82.42 1399.3 76.72 1413.8 74.2C1428.3 71.68 1422.7 71.98 1437.2 70.2C1451.7 68.42 1475.7 65.57 1500.8 63.5C1525.9 61.43 1565.48 59.47 1587.8 57.8C1610.12 56.13 1619.92 54.88 1634.7 53.5C1649.48 52.12 1655.03 51.18 1676.5 49.5C1697.97 47.82 1734.5 45.42 1763.5 43.4C1792.5 41.38 1821.22 39.18 1850.5 37.4C1879.78 35.62 1924.42 33.48 1939.2 32.7" stroke="#27aae1" stroke-width="5.0" fill="none" stroke-linejoin="round" stroke-linecap="butt" clip-path="url(#clipB)"/>
<path d="M1168.41 476.5C1168.43 476.25 1168.49 475.48 1168.53 474.98C1168.58 474.47 1168.62 473.96 1168.66 473.45C1168.71 472.95 1168.75 472.44 1168.79 471.93C1168.83 471.42 1168.88 470.92 1168.92 470.41C1168.96 469.9 1169.01 469.39 1169.05 468.89C1169.09 468.38 1169.14 467.87 1169.18 467.36C1169.23 466.86 1169.27 466.35 1169.31 465.84C1169.36 465.33 1169.4 464.82 1169.45 464.32C1169.49 463.81 1169.53 463.3 1169.58 462.79C1169.62 462.29 1169.67 461.78 1169.71 461.27C1169.76 460.76 1169.8 460.26 1169.85 459.75C1169.89 459.24 1169.94 458.73 1169.98 458.23C1170.03 457.72 1170.07 457.21 1170.12 456.7C1170.16 456.2 1170.21 455.69 1170.25 455.18C1170.3 454.67 1170.34 454.16 1170.39 453.66C1170.44 453.15 1170.48 452.64 1170.53 452.13C1170.57 451.63 1170.62 451.12 1170.67 450.61C1170.71 450.1 1170.76 449.6 1170.81 449.09C1170.85 448.58 1170.9 448.07 1170.95 447.57C1170.99 447.06 1171.04 446.55 1171.09 446.04C1171.13 445.54 1171.18 445.03 1171.23 444.52C1171.27 444.01 1171.32 443.51 1171.37 443C1171.42 442.49 1171.46 441.98 1171.51 441.47C1171.56 440.97 1171.61 440.46 1171.66 439.95C1171.7 439.44 1171.75 438.94 1171.8 438.43C1171.85 437.92 1171.9 437.41 1171.94 436.91C1171.99 436.4 1172.04 435.89 1172.09 435.38C1172.14 434.88 1172.19 434.37 1172.24 433.86C1172.29 433.35 1172.33 432.85 1172.38 432.34C1172.43 431.83 1172.48 431.32 1172.53 430.81C1172.58 430.31 1172.63 429.8 1172.68 429.29C1172.73 428.78 1172.78 428.28 1172.83 427.77C1172.88 427.26 1172.93 426.75 1172.98 426.25C1173.03 425.74 1173.08 425.23 1173.13 424.72C1173.18 424.22 1173.23 423.71 1173.28 423.2C1173.34 422.69 1173.39 422.19 1173.44 421.68C1173.49 421.17 1173.54 420.66 1173.59 420.15C1173.64 419.65 1173.69 419.14 1173.75 418.63C1173.8 418.12 1173.85 417.62 1173.9 417.11C1173.95 416.6 1174 416.09 1174.06 415.59C1174.11 415.08 1174.16 414.57 1174.21 414.06C1174.27 413.56 1174.32 413.05 1174.37 412.54C1174.42 412.03 1174.48 411.53 1174.53 411.02C1174.58 410.51 1174.64 410 1174.69 409.49C1174.74 408.99 1174.8 408.48 1174.85 407.97C1174.9 407.46 1174.96 406.96 1175.01 406.45C1175.07 405.94 1175.12 405.43 1175.17 404.93C1175.23 404.42 1175.28 403.91 1175.34 403.4C1175.39 402.9 1175.45 402.39 1175.5 401.88C1175.56 401.37 1175.61 400.87 1175.67 400.36C1175.72 399.85 1175.78 399.34 1175.83 398.84C1175.89 398.33 1175.94 397.82 1176 397.31C1176.05 396.8 1176.11 396.3 1176.17 395.79C1176.22 395.28 1176.28 394.77 1176.34 394.27C1176.39 393.76 1176.45 393.25 1176.5 392.74C1176.56 392.24 1176.62 391.73 1176.68 391.22C1176.73 390.71 1176.79 390.21 1176.85 389.7C1176.9 389.19 1176.96 388.68 1177.02 388.18C1177.08 387.67 1177.13 387.16 1177.19 386.65C1177.25 386.14 1177.31 385.64 1177.37 385.13C1177.42 384.62 1177.48 384.11 1177.54 383.61C1177.6 383.1 1177.66 382.59 1177.72 382.08C1177.78 381.58 1177.84 381.07 1177.9 380.56C1177.95 380.05 1178.01 379.55 1178.07 379.04C1178.13 378.53 1178.19 378.02 1178.25 377.52C1178.31 377.01 1178.37 376.5 1178.43 375.99C1178.49 375.48 1178.55 374.98 1178.61 374.47C1178.67 373.96 1178.73 373.45 1178.8 372.95C1178.86 372.44 1178.92 371.93 1178.98 371.42C1179.04 370.92 1179.1 370.41 1179.16 369.9C1179.22 369.39 1179.29 368.89 1179.35 368.38C1179.41 367.87 1179.47 367.36 1179.53 366.86C1179.6 366.35 1179.66 365.84 1179.72 365.33C1179.78 364.82 1179.85 364.32 1179.91 363.81C1179.97 363.3 1180.04 362.79 1180.1 362.29C1180.16 361.78 1180.23 361.27 1180.29 360.76C1180.35 360.26 1180.42 359.75 1180.48 359.24C1180.55 358.73 1180.61 358.23 1180.67 357.72C1180.74 357.21 1180.8 356.7 1180.87 356.2C1180.93 355.69 1181 355.18 1181.06 354.67C1181.13 354.17 1181.19 353.66 1181.26 353.15C1181.32 352.64 1181.39 352.13 1181.46 351.63C1181.52 351.12 1181.59 350.61 1181.65 350.1C1181.72 349.6 1181.79 349.09 1181.85 348.58C1181.92 348.07 1181.99 347.57 1182.05 347.06C1182.12 346.55 1182.19 346.04 1182.25 345.54C1182.32 345.03 1182.39 344.52 1182.46 344.01C1182.52 343.51 1182.59 343 1182.66 342.49C1182.73 341.98 1182.8 341.47 1182.86 340.97C1182.93 340.46 1183 339.95 1183.07 339.44C1183.14 338.94 1183.21 338.43 1183.28 337.92C1183.35 337.41 1183.42 336.91 1183.49 336.4C1183.56 335.89 1183.63 335.38 1183.7 334.88C1183.77 334.37 1183.84 333.86 1183.91 333.35C1183.98 332.85 1184.05 332.34 1184.12 331.83C1184.19 331.32 1184.26 330.81 1184.33 330.31C1184.4 329.8 1184.47 329.29 1184.55 328.78C1184.62 328.28 1184.69 327.77 1184.76 327.26C1184.83 326.75 1184.91 326.25 1184.98 325.74C1185.05 325.23 1185.12 324.72 1185.2 324.22C1185.27 323.71 1185.34 323.2 1185.41 322.69C1185.49 322.19 1185.56 321.68 1185.63 321.17C1185.71 320.66 1185.78 320.15 1185.86 319.65C1185.93 319.14 1186 318.63 1186.08 318.12C1186.15 317.62 1186.23 317.11 1186.3 316.6C1186.38 316.09 1186.45 315.59 1186.53 315.08C1186.6 314.57 1186.68 314.06 1186.76 313.56C1186.83 313.05 1186.91 312.54 1186.98 312.03C1187.06 311.53 1187.14 311.02 1187.21 310.51C1187.29 310 1187.37 309.5 1187.44 308.99C1187.52 308.48 1187.6 307.97 1187.68 307.46C1187.75 306.96 1187.83 306.45 1187.91 305.94C1187.99 305.43 1188.06 304.93 1188.14 304.42C1188.22 303.91 1188.3 303.4 1188.38 302.9C1188.46 302.39 1188.54 301.88 1188.62 301.37C1188.7 300.87 1188.78 300.36 1188.86 299.85C1188.93 299.34 1189.01 298.84 1189.1 298.33C1189.18 297.82 1189.26 297.31 1189.34 296.8C1189.42 296.3 1189.5 295.79 1189.58 295.28C1189.66 294.77 1189.74 294.27 1189.82 293.76C1189.91 293.25 1189.99 292.74 1190.07 292.24C1190.15 291.73 1190.23 291.22 1190.32 290.71C1190.4 290.21 1190.48 289.7 1190.57 289.19C1190.65 288.68 1190.73 288.18 1190.82 287.67C1190.9 287.16 1190.98 286.65 1191.07 286.14C1191.15 285.64 1191.24 285.13 1191.32 284.62C1191.4 284.11 1191.49 283.61 1191.57 283.1C1191.66 282.59 1191.74 282.08 1191.83 281.58C1191.92 281.07 1192 280.56 1192.09 280.05C1192.17 279.55 1192.26 279.04 1192.35 278.53C1192.43 278.02 1192.52 277.52 1192.61 277.01C1192.69 276.5 1192.78 275.99 1192.87 275.48C1192.96 274.98 1193.05 274.47 1193.13 273.96C1193.22 273.45 1193.31 272.95 1193.4 272.44C1193.49 271.93 1193.58 271.42 1193.67 270.92C1193.76 270.41 1193.85 269.9 1193.94 269.39C1194.03 268.89 1194.12 268.38 1194.21 267.87C1194.3 267.36 1194.39 266.86 1194.48 266.35C1194.57 265.84 1194.66 265.33 1194.75 264.83C1194.84 264.32 1194.94 263.81 1195.03 263.3C1195.12 262.79 1195.21 262.29 1195.31 261.78C1195.4 261.27 1195.49 260.76 1195.59 260.26C1195.68 259.75 1195.77 259.24 1195.87 258.73C1195.96 258.23 1196.06 257.72 1196.15 257.21C1196.24 256.7 1196.34 256.2 1196.43 255.69C1196.53 255.18 1196.63 254.67 1196.72 254.17C1196.82 253.66 1196.91 253.15 1197.01 252.64C1197.11 252.13 1197.2 251.63 1197.3 251.12C1197.4 250.61 1197.5 250.1 1197.6 249.6C1197.69 249.09 1197.79 248.58 1197.89 248.07C1197.99 247.57 1198.09 247.06 1198.19 246.55C1198.29 246.04 1198.39 245.54 1198.49 245.03C1198.59 244.52 1198.69 244.01 1198.79 243.51C1198.89 243 1198.99 242.49 1199.09 241.98C1199.2 241.47 1199.3 240.97 1199.4 240.46C1199.5 239.95 1199.61 239.44 1199.71 238.94C1199.81 238.43 1199.92 237.92 1200.02 237.41C1200.13 236.91 1200.23 236.4 1200.34 235.89C1200.44 235.38 1200.55 234.88 1200.65 234.37C1200.76 233.86 1200.87 233.35 1200.97 232.85C1201.08 232.34 1201.19 231.83 1201.3 231.32C1201.4 230.81 1201.51 230.31 1201.62 229.8C1201.73 229.29 1201.84 228.78 1201.95 228.28C1202.06 227.77 1202.17 227.26 1202.28 226.75C1202.39 226.25 1202.38 226.26 1202.62 225.23C1202.85 224.21 1202.45 225.01 1203.7 220.6C1204.95 216.19 1207.97 205.62 1210.1 198.8C1212.23 191.98 1214.17 186.08 1216.5 179.7C1218.83 173.32 1220.7 167.1 1224.1 160.5C1227.5 153.9 1232.63 145.85 1236.9 140.1C1241.17 134.35 1245.02 130.48 1249.7 126C1254.38 121.52 1258.62 116.82 1265 113.2C1271.38 109.58 1280.55 107.07 1288 104.3C1295.45 101.53 1302.88 98.73 1309.7 96.6C1316.52 94.47 1322.15 93.38 1328.9 91.5C1335.65 89.62 1336.05 88.18 1350.2 85.3C1364.35 82.42 1399.3 76.72 1413.8 74.2C1428.3 71.68 1422.7 71.98 1437.2 70.2C1451.7 68.42 1475.7 65.57 1500.8 63.5C1525.9 61.43 1565.48 59.47 1587.8 57.8C1610.12 56.13 1619.92 54.88 1634.7 53.5C1649.48 52.12 1655.03 51.18 1676.5 49.5C1697.97 47.82 1734.5 45.42 1763.5 43.4C1792.5 41.38 1821.22 39.18 1850.5 37.4C1879.78 35.62 1924.42 33.48 1939.2 32.7" stroke="#6c3b97" stroke-width="6.0" fill="none" stroke-linejoin="round" stroke-dasharray="17 26.3" stroke-linecap="round" clip-path="url(#clipB)"/>
<path d="M1151 755.1L1165.6 500L1164.96 498.35L1165.25 496.36L1165.55 494.37L1165.87 492.38L1166.19 490.39L1166.52 488.4L1166.86 486.41L1167.21 484.42L1167.57 482.43L1167.95 480.44L1168.33 478.45L1168.74 476.46L1169.16 474.47L1169.6 472.48L1170.06 470.49L1170.54 468.5L1171.05 466.51L1171.58 464.52L1172.14 462.53L1172.73 460.54L1173.36 458.55L1174.01 456.56L1174.7 454.57L1175.43 452.58L1176.2 450.59L1177.01 448.6L1177.85 446.61L1178.75 444.62L1179.69 442.63L1180.67 440.64L1181.71 438.65L1182.79 436.66L1183.92 434.67L1185.1 432.68L1186.33 430.69L1187.6 428.7L1188.92 426.71L1190.28 424.71L1191.68 422.72L1193.13 420.73L1194.62 418.74L1196.15 416.75L1197.71 414.76L1199.32 412.77L1200.96 410.78L1202.64 408.79L1204.36 406.8L1206.11 404.81L1207.9 402.82L1209.72 400.83L1211.57 398.84L1213.45 396.85L1215.37 394.86L1217.31 392.87L1219.28 390.88L1221.28 388.89L1223.31 386.9L1225.36 384.91L1227.44 382.92L1229.53 380.93L1231.65 378.94L1233.79 376.95L1235.95 374.96L1238.13 372.97L1240.32 370.98L1242.53 368.99L1244.75 367L1246.99 365.01L1249.23 363.02L1250.36 362.02L1251.49 361.03L1252.63 360.03L1253.76 359.04L1254.9 358.04L1256.05 357.05L1257.2 356.05L1258.35 355.06L1259.5 354.06L1260.66 353.07L1261.82 352.07L1262.98 351.07L1264.15 350.08L1265.33 349.08L1266.5 348.09L1267.68 347.09L1268.87 346.1L1270.05 345.1L1271.25 344.11L1272.44 343.11L1273.64 342.12L1274.85 341.12L1276.06 340.13L1277.27 339.13L1278.49 338.14L1279.71 337.14L1280.94 336.15L1282.17 335.15L1283.4 334.16L1284.64 333.16L1285.89 332.17L1287.14 331.17L1288.39 330.18L1289.65 329.18L1290.92 328.19L1292.19 327.19L1293.46 326.2L1294.75 325.2L1296.03 324.21L1297.32 323.21L1298.62 322.22L1299.92 321.22L1301.23 320.23L1302.54 319.23L1303.86 318.24L1305.18 317.24L1306.51 316.25L1307.85 315.25L1309.19 314.25L1310.54 313.26L1311.89 312.26L1313.25 311.27L1314.62 310.27L1315.99 309.28L1317.37 308.28L1318.75 307.29L1320.14 306.29L1321.54 305.3L1322.94 304.3L1324.35 303.31L1325.77 302.31L1327.19 301.32L1328.62 300.32L1330.06 299.33L1331.5 298.33L1332.95 297.34L1334.41 296.34L1335.88 295.35L1337.35 294.35L1338.83 293.36L1340.31 292.36L1341.81 291.37L1343.31 290.37L1344.82 289.38L1346.33 288.38L1347.86 287.39L1349.4 286.39L1350.94 285.4L1352.5 284.4L1354.07 283.41L1355.65 282.41L1357.25 281.42L1358.85 280.42L1360.47 279.43L1362.11 278.43L1363.76 277.43L1365.42 276.44L1367.1 275.44L1368.8 274.45L1370.51 273.45L1372.24 272.46L1373.99 271.46L1375.75 270.47L1377.54 269.47L1379.34 268.48L1381.16 267.48L1383.01 266.49L1384.87 265.49L1386.76 264.5L1388.67 263.5L1390.6 262.51L1392.55 261.51L1394.53 260.52L1396.53 259.52L1398.56 258.53L1400.61 257.53L1402.69 256.54L1404.79 255.54L1406.92 254.55L1409.08 253.55L1411.26 252.56L1413.47 251.56L1415.71 250.57L1417.97 249.57L1420.26 248.58L1422.56 247.58L1424.89 246.59L1427.23 245.59L1429.59 244.6L1431.97 243.6L1434.36 242.61L1436.77 241.61L1439.19 240.61L1441.62 239.62L1444.06 238.62L1446.5 237.63L1448.96 236.63L1451.42 235.64L1453.89 234.64L1456.36 233.65L1458.83 232.65L1461.3 231.66L1463.77 230.66L1466.24 229.67L1468.71 228.67L1471.17 227.68L1473.62 226.68L1476.07 225.69L1478.52 224.69L1480.95 223.7L1483.37 222.7L1485.78 221.71L1488.19 220.71L1490.58 219.72L1492.97 218.72L1495.35 217.73L1497.73 216.73L1500.09 215.74L1502.46 214.74L1504.81 213.75L1507.16 212.75L1509.51 211.76L1511.85 210.76L1514.19 209.77L1516.53 208.77L1518.86 207.78L1521.19 206.78L1523.52 205.78L1525.84 204.79L1528.17 203.79L1530.49 202.8L1532.82 201.8L1535.14 200.81L1537.47 199.81L1539.79 198.82L1542.12 197.82L1544.45 196.83L1546.78 195.83L1549.12 194.84L1551.46 193.84L1553.8 192.85L1556.14 191.85L1558.5 190.86L1560.85 189.86L1563.21 188.87L1565.58 187.87L1567.95 186.88L1570.33 185.88L1572.72 184.89L1575.12 183.89L1577.52 182.9L1579.93 181.9L1582.35 180.91L1584.78 179.91L1587.22 178.92L1589.67 177.92L1592.13 176.93L1594.6 175.93L1597.08 174.94L1599.58 173.94L1602.08 172.95L1604.59 171.95L1607.11 170.96L1609.63 169.96L1612.17 168.96L1614.72 167.97L1617.27 166.97L1619.84 165.98L1622.41 164.98L1624.99 163.99L1627.57 162.99L1630.17 162L1632.77 161L1635.38 160.01L1638 159.01L1640.62 158.02L1643.25 157.02L1645.89 156.03L1648.54 155.03L1651.19 154.04L1653.84 153.04L1656.5 152.05L1659.17 151.05L1661.85 150.06L1664.52 149.06L1667.21 148.07L1669.9 147.07L1672.59 146.08L1675.29 145.08L1677.99 144.09L1680.7 143.09L1683.41 142.1L1686.13 141.1L1688.86 140.11L1691.59 139.11L1694.32 138.12L1697.06 137.12L1699.81 136.13L1702.57 135.13L1705.33 134.14L1708.1 133.14L1710.88 132.14L1713.67 131.15L1716.47 130.15L1719.27 129.16L1722.09 128.16L1724.91 127.17L1727.75 126.17L1730.59 125.18L1733.44 124.18L1736.31 123.19L1739.18 122.19L1742.07 121.2L1744.97 120.2L1747.88 119.21L1750.8 118.21L1753.74 117.22L1756.68 116.22L1759.65 115.23L1762.62 114.23L1765.61 113.24L1768.61 112.24L1771.62 111.25L1774.65 110.25L1777.69 109.26L1780.74 108.26L1783.81 107.27L1786.89 106.27L1789.97 105.28L1793.07 104.28L1796.18 103.29L1799.3 102.29L1802.43 101.3L1805.57 100.3L1808.72 99.31L1811.88 98.31L1815.05 97.32L1818.23 96.32L1821.41 95.32L1824.6 94.33L1827.8 93.33L1831.01 92.34L1834.23 91.34L1837.45 90.35L1840.67 89.35L1843.91 88.36L1847.15 87.36L1850.39 86.37L1853.64 85.37L1856.89 84.38L1860.15 83.38L1863.42 82.39L1866.68 81.39L1869.95 80.4L1873.22 79.4L1876.5 78.41L1879.78 77.41L1883.06 76.42L1886.34 75.42L1889.63 74.43L1892.91 73.43L1896.2 72.44L1899.48 71.44L1902.77 70.45L1906.06 69.45L1909.34 68.46L1912.63 67.46L1915.92 66.47L1919.2 65.47L1922.48 64.48L1925.76 63.48L1929.04 62.49L1932.31 61.49L1935.59 60.5L1938.85 59.5" stroke="#fdb913" stroke-width="5.0" fill="none" stroke-linejoin="round" stroke-linecap="butt" clip-path="url(#clipB)"/>
<path d="M1166.6 485.2L1167.21 484.42L1167.57 482.43L1167.95 480.44L1168.33 478.45L1168.74 476.46L1169.16 474.47L1169.6 472.48L1170.06 470.49L1170.54 468.5L1171.05 466.51L1171.58 464.52L1172.14 462.53L1172.73 460.54L1173.36 458.55L1174.01 456.56L1174.7 454.57L1175.43 452.58L1176.2 450.59L1177.01 448.6L1177.85 446.61L1178.75 444.62L1179.69 442.63L1180.67 440.64L1181.71 438.65L1182.79 436.66L1183.92 434.67L1185.1 432.68L1186.33 430.69L1187.6 428.7L1188.92 426.71L1190.28 424.71L1191.68 422.72L1193.13 420.73L1194.62 418.74L1196.15 416.75L1197.71 414.76L1199.32 412.77L1200.96 410.78L1202.64 408.79L1204.36 406.8L1206.11 404.81L1207.9 402.82L1209.72 400.83L1211.57 398.84L1213.45 396.85L1215.37 394.86L1217.31 392.87L1219.28 390.88L1221.28 388.89L1223.31 386.9L1225.36 384.91L1227.44 382.92L1229.53 380.93L1231.65 378.94L1233.79 376.95L1235.95 374.96L1238.13 372.97L1240.32 370.98L1242.53 368.99L1244.75 367L1246.99 365.01L1249.23 363.02L1250.36 362.02L1251.49 361.03L1252.63 360.03L1253.76 359.04L1254.9 358.04L1256.05 357.05L1257.2 356.05L1258.35 355.06L1259.5 354.06L1260.66 353.07L1261.82 352.07L1262.98 351.07L1264.15 350.08L1265.33 349.08L1266.5 348.09L1267.68 347.09L1268.87 346.1L1270.05 345.1L1271.25 344.11L1272.44 343.11L1273.64 342.12L1274.85 341.12L1276.06 340.13L1277.27 339.13L1278.49 338.14L1279.71 337.14L1280.94 336.15L1282.17 335.15L1283.4 334.16L1284.64 333.16L1285.89 332.17L1287.14 331.17L1288.39 330.18L1289.65 329.18L1290.92 328.19L1292.19 327.19L1293.46 326.2L1294.75 325.2L1296.03 324.21L1297.32 323.21L1298.62 322.22L1299.92 321.22L1301.23 320.23L1302.54 319.23L1303.86 318.24L1305.18 317.24L1306.51 316.25L1307.85 315.25L1309.19 314.25L1310.54 313.26L1311.89 312.26L1313.25 311.27L1314.62 310.27L1315.99 309.28L1317.37 308.28L1318.75 307.29L1320.14 306.29L1321.54 305.3L1322.94 304.3L1324.35 303.31L1325.77 302.31L1327.19 301.32L1328.62 300.32L1330.06 299.33L1331.5 298.33L1332.95 297.34L1334.41 296.34L1335.88 295.35L1337.35 294.35L1338.83 293.36L1340.31 292.36L1341.81 291.37L1343.31 290.37L1344.82 289.38L1346.33 288.38L1347.86 287.39L1349.4 286.39L1350.94 285.4L1352.5 284.4L1354.07 283.41L1355.65 282.41L1357.25 281.42L1358.85 280.42L1360.47 279.43L1362.11 278.43L1363.76 277.43L1365.42 276.44L1367.1 275.44L1368.8 274.45L1370.51 273.45L1372.24 272.46L1373.99 271.46L1375.75 270.47L1377.54 269.47L1379.34 268.48L1381.16 267.48L1383.01 266.49L1384.87 265.49L1386.76 264.5L1388.67 263.5L1390.6 262.51L1392.55 261.51L1394.53 260.52L1396.53 259.52L1398.56 258.53L1400.61 257.53L1402.69 256.54L1404.79 255.54L1406.92 254.55L1409.08 253.55L1411.26 252.56L1413.47 251.56L1415.71 250.57L1417.97 249.57L1420.26 248.58L1422.56 247.58L1424.89 246.59L1427.23 245.59L1429.59 244.6L1431.97 243.6L1434.36 242.61L1436.77 241.61L1439.19 240.61L1441.62 239.62L1444.06 238.62L1446.5 237.63L1448.96 236.63L1451.42 235.64L1453.89 234.64L1456.36 233.65L1458.83 232.65L1461.3 231.66L1463.77 230.66L1466.24 229.67L1468.71 228.67L1471.17 227.68L1473.62 226.68L1476.07 225.69L1478.52 224.69L1480.95 223.7L1483.37 222.7L1485.78 221.71L1488.19 220.71L1490.58 219.72L1492.97 218.72L1495.35 217.73L1497.73 216.73L1500.09 215.74L1502.46 214.74L1504.81 213.75L1507.16 212.75L1509.51 211.76L1511.85 210.76L1514.19 209.77L1516.53 208.77L1518.86 207.78L1521.19 206.78L1523.52 205.78L1525.84 204.79L1528.17 203.79L1530.49 202.8L1532.82 201.8L1535.14 200.81L1537.47 199.81L1539.79 198.82L1542.12 197.82L1544.45 196.83L1546.78 195.83L1549.12 194.84L1551.46 193.84L1553.8 192.85L1556.14 191.85L1558.5 190.86L1560.85 189.86L1563.21 188.87L1565.58 187.87L1567.95 186.88L1570.33 185.88L1572.72 184.89L1575.12 183.89L1577.52 182.9L1579.93 181.9L1582.35 180.91L1584.78 179.91L1587.22 178.92L1589.67 177.92L1592.13 176.93L1594.6 175.93L1597.08 174.94L1599.58 173.94L1602.08 172.95L1604.59 171.95L1607.11 170.96L1609.63 169.96L1612.17 168.96L1614.72 167.97L1617.27 166.97L1619.84 165.98L1622.41 164.98L1624.99 163.99L1627.57 162.99L1630.17 162L1632.77 161L1635.38 160.01L1638 159.01L1640.62 158.02L1643.25 157.02L1645.89 156.03L1648.54 155.03L1651.19 154.04L1653.84 153.04L1656.5 152.05L1659.17 151.05L1661.85 150.06L1664.52 149.06L1667.21 148.07L1669.9 147.07L1672.59 146.08L1675.29 145.08L1677.99 144.09L1680.7 143.09L1683.41 142.1L1686.13 141.1L1688.86 140.11L1691.59 139.11L1694.32 138.12L1697.06 137.12L1699.81 136.13L1702.57 135.13L1705.33 134.14L1708.1 133.14L1710.88 132.14L1713.67 131.15L1716.47 130.15L1719.27 129.16L1722.09 128.16L1724.91 127.17L1727.75 126.17L1730.59 125.18L1733.44 124.18L1736.31 123.19L1739.18 122.19L1742.07 121.2L1744.97 120.2L1747.88 119.21L1750.8 118.21L1753.74 117.22L1756.68 116.22L1759.65 115.23L1762.62 114.23L1765.61 113.24L1768.61 112.24L1771.62 111.25L1774.65 110.25L1777.69 109.26L1780.74 108.26L1783.81 107.27L1786.89 106.27L1789.97 105.28L1793.07 104.28L1796.18 103.29L1799.3 102.29L1802.43 101.3L1805.57 100.3L1808.72 99.31L1811.88 98.31L1815.05 97.32L1818.23 96.32L1821.41 95.32L1824.6 94.33L1827.8 93.33L1831.01 92.34L1834.23 91.34L1837.45 90.35L1840.67 89.35L1843.91 88.36L1847.15 87.36L1850.39 86.37L1853.64 85.37L1856.89 84.38L1860.15 83.38L1863.42 82.39L1866.68 81.39L1869.95 80.4L1873.22 79.4L1876.5 78.41L1879.78 77.41L1883.06 76.42L1886.34 75.42L1889.63 74.43L1892.91 73.43L1896.2 72.44L1899.48 71.44L1902.77 70.45L1906.06 69.45L1909.34 68.46L1912.63 67.46L1915.92 66.47L1919.2 65.47L1922.48 64.48L1925.76 63.48L1929.04 62.49L1932.31 61.49L1935.59 60.5L1938.85 59.5" stroke="#ec1c24" stroke-width="6.0" fill="none" stroke-linejoin="round" stroke-dasharray="17 26.3" stroke-linecap="round" clip-path="url(#clipB)"/>
<path d="M1151 476.5H1938.8" stroke="#6c3b97" stroke-width="2.8" fill="none" clip-path="url(#clipB)"/>
<path d="M1151 485.2H1938.8" stroke="#ec1c24" stroke-width="2.8" fill="none" clip-path="url(#clipB)"/>
<g fill="#fff" stroke="#231f20" stroke-width="3"><circle cx="1173" cy="462.4" r="8.3"/><circle cx="1176.4" cy="448.1" r="8.3"/><circle cx="1183.8" cy="434" r="8.3"/><circle cx="1204" cy="406.1" r="8.3"/><circle cx="1245.5" cy="352.3" r="8.3"/><circle cx="1322.4" cy="307.5" r="8.3"/><circle cx="1392.4" cy="273.8" r="8.3"/><circle cx="1496.2" cy="214.5" r="8.3"/><circle cx="1845.7" cy="102" r="8.3"/></g>
<g class="tick"><text x="1129.5" y="763.3" text-anchor="end">0</text><text x="1129.5" y="681.6" text-anchor="end">100</text><text x="1129.5" y="599.9" text-anchor="end">200</text><text x="1129.5" y="518.2" text-anchor="end">300</text><text x="1129.5" y="436.5" text-anchor="end">400</text><text x="1129.5" y="354.8" text-anchor="end">500</text><text x="1129.5" y="273.1" text-anchor="end">600</text><text x="1129.5" y="191.4" text-anchor="end">700</text><text x="1129.5" y="109.7" text-anchor="end">800</text><text x="1129.5" y="28" text-anchor="end">900</text><text x="1151.5" y="793.6" text-anchor="middle">0</text><text x="1239.03" y="793.6" text-anchor="middle">0.01</text><text x="1326.57" y="793.6" text-anchor="middle">0.02</text><text x="1414.1" y="793.6" text-anchor="middle">0.03</text><text x="1501.63" y="793.6" text-anchor="middle">0.04</text><text x="1589.17" y="793.6" text-anchor="middle">0.05</text><text x="1676.7" y="793.6" text-anchor="middle">0.06</text><text x="1764.23" y="793.6" text-anchor="middle">0.07</text><text x="1851.77" y="793.6" text-anchor="middle">0.08</text><text x="1939.3" y="793.6" text-anchor="middle">0.09</text></g>
<text class="ttl" x="1544.2" y="829" text-anchor="middle">Total strain</text>
<text class="ttl" transform="translate(1075.9 387.45) rotate(-90)" text-anchor="middle">Stress (MPa)</text>
<rect x="1629.2" y="238.9" width="285.7" height="464.1" fill="#fff" stroke="#231f20" stroke-width="1.4"/>
<path d="M1681.7 267.7H1732.5" stroke="#1bb04b" stroke-width="5.0" stroke-linecap="round"/>
<path d="M1681.7 325.7H1732.5" stroke="#27aae1" stroke-width="5.0" stroke-linecap="round"/>
<path d="M1682.2 383.7H1732" stroke="#6c3b97" stroke-width="6.0" stroke-linecap="round" stroke-dasharray="17 26.3"/>
<path d="M1680.2 441.7H1734" stroke="#6c3b97" stroke-width="2.8"/>
<circle cx="1707.1" cy="499.7" r="7.2" fill="#fff" stroke="#231f20" stroke-width="3"/>
<path d="M1681.7 557.7H1732.5" stroke="#fdb913" stroke-width="5.0" stroke-linecap="round"/>
<path d="M1682.2 615.7H1732" stroke="#ec1c24" stroke-width="6.0" stroke-linecap="round" stroke-dasharray="17 26.3"/>
<path d="M1680.2 673.7H1734" stroke="#ec1c24" stroke-width="2.8"/>
<g class="leg"><text x="1739.3" y="276.3">elastic</text><text x="1739.3" y="334.3">mono. data</text><text x="1739.3" y="392.3">Ch. mono</text><text x="1739.3" y="450.3">σy mono</text><text x="1739.3" y="508.3">cyclic data</text><text x="1739.3" y="566.3">R-O cyclic</text><text x="1739.3" y="624.3">Ch. mono</text><text x="1739.3" y="682.3">σy cyclic</text></g>
<path d="M167.9 1536.59H947.1M167.9 1444.67H947.1M167.9 1352.76H947.1M167.9 1260.85H947.1M167.9 1168.94H947.1M167.9 1077.03H947.1M167.9 985.11H947.1M167.9 893.2H947.1M308.35 1627V893.2M450.29 1627V893.2M592.24 1627V893.2M734.18 1627V893.2M876.13 1627V893.2" stroke="#a6a8ab" stroke-width="1.1" stroke-dasharray="3 3" fill="none"/>
<path d="M166.4 892V1628.5H948.3M158.4 1628.5H166.4M158.4 1536.59H166.4M158.4 1444.67H166.4M158.4 1352.76H166.4M158.4 1260.85H166.4M158.4 1168.94H166.4M158.4 1077.03H166.4M158.4 985.11H166.4M158.4 893.2H166.4M166.4 1628.5V1636M308.35 1628.5V1636M450.29 1628.5V1636M592.24 1628.5V1636M734.18 1628.5V1636M876.13 1628.5V1636" stroke="#231f20" stroke-width="2.8" fill="none" stroke-linecap="butt" stroke-linejoin="miter"/>
<path d="M166.4 1628.5L331.5 893.2" stroke="#1bb04b" stroke-width="5.0" fill="none" stroke-linejoin="round" stroke-linecap="butt" clip-path="url(#clipC)"/>
<path d="M166.4 1628.5L166.95 1626.04L167.5 1623.59L168.05 1621.13L168.61 1618.68L169.16 1616.22L169.71 1613.77L170.26 1611.31L170.81 1608.86L171.36 1606.4L171.91 1603.95L172.46 1601.49L173.02 1599.04L173.57 1596.58L174.12 1594.13L174.67 1591.67L175.22 1589.22L175.77 1586.76L176.32 1584.31L176.87 1581.85L177.43 1579.4L177.98 1576.94L178.53 1574.49L179.08 1572.03L179.63 1569.58L180.18 1567.12L180.73 1564.67L181.28 1562.21L181.84 1559.76L182.39 1557.3L182.94 1554.85L183.49 1552.39L184.04 1549.94L184.59 1547.48L185.14 1545.03L185.69 1542.57L186.25 1540.12L186.8 1537.66L187.35 1535.21L187.9 1532.75L188.45 1530.3L189 1527.84L189.55 1525.39L190.1 1522.93L190.66 1520.48L191.21 1518.02L191.76 1515.57L192.31 1513.11L192.86 1510.66L193.41 1508.2L193.96 1505.75L194.51 1503.29L195.07 1500.84L195.62 1498.38L196.17 1495.93L196.72 1493.47L197.27 1491.01L197.82 1488.56L198.37 1486.1L198.92 1483.65L199.48 1481.19L200.03 1478.74L200.58 1476.28L201.13 1473.83L201.68 1471.37L202.23 1468.92L202.78 1466.46L203.33 1464.01L203.89 1461.55L204.44 1459.1L204.99 1456.64L205.54 1454.19L206.09 1451.73L206.64 1449.28L207.19 1446.82L207.74 1444.37L208.3 1441.91L208.85 1439.46L209.4 1437L209.95 1434.55L210.5 1432.09L211.05 1429.64L211.6 1427.18L212.15 1424.73L212.71 1422.27L213.26 1419.82L213.81 1417.36L214.36 1414.91L214.91 1412.45L215.46 1410L216.01 1407.54L216.56 1405.09L217.12 1402.63L217.67 1400.18L218.22 1397.72L218.77 1395.27L219.32 1392.81L219.87 1390.36L220.42 1387.9L220.97 1385.45L221.53 1382.99L222.08 1380.54L222.63 1378.08L223.18 1375.63L223.73 1373.17L224.28 1370.72L224.83 1368.26L225.38 1365.81L225.94 1363.35L226.49 1360.89L227.04 1358.44L227.59 1355.98L228.14 1353.53L228.69 1351.07L229.24 1348.62L229.79 1346.16L230.35 1343.71L230.9 1341.25L231.45 1338.8L232 1336.34L232.55 1333.89L233.1 1331.43L233.65 1328.98L234.2 1326.52L234.76 1324.07L235.31 1321.61L235.86 1319.16L236.41 1316.7L236.96 1314.25L237.51 1311.79L238.06 1309.34L238.61 1306.88L239.17 1304.43L239.72 1301.97L240.27 1299.52L240.82 1297.06L241.37 1294.61L241.92 1292.15L242.47 1289.7L243.03 1287.24L243.58 1284.79L244.13 1282.33L244.68 1279.88L245.23 1277.42L245.78 1274.97L246.34 1272.51L246.89 1270.06L247.44 1267.6L247.99 1265.15L248.54 1262.69L249.09 1260.24L249.65 1257.78L250.2 1255.33L250.75 1252.87L251.3 1250.42L251.86 1247.96L252.41 1245.51L252.96 1243.05L253.52 1240.6L254.07 1238.14L254.62 1235.69L255.18 1233.23L255.73 1230.78L256.29 1228.32L256.84 1225.86L257.4 1223.41L257.95 1220.95L258.51 1218.5L259.07 1216.04L259.62 1213.59L260.18 1211.13L260.74 1208.68L261.3 1206.22L261.86 1203.77L262.42 1201.31L262.99 1198.86L263.55 1196.4L264.12 1193.95L264.68 1191.49L265.25 1189.04L265.82 1186.58L266.39 1184.13L266.97 1181.67L267.55 1179.22L268.12 1176.76L268.71 1174.31L269.29 1171.85L269.88 1169.4L270.47 1166.94L271.07 1164.49L271.67 1162.03L272.27 1159.58L272.88 1157.12L273.49 1154.67L274.11 1152.21L274.74 1149.76L275.38 1147.3L276.02 1144.85L276.67 1142.39L277.33 1139.94L278 1137.48L278.68 1135.03L279.37 1132.57L280.07 1130.12L280.79 1127.66L281.52 1125.21L282.27 1122.75L283.03 1120.3L283.81 1117.84L284.62 1115.39L285.44 1112.93L286.29 1110.48L287.16 1108.02L288.06 1105.57L288.99 1103.11L289.95 1100.66L290.95 1098.2L291.98 1095.75L293.06 1093.29L294.17 1090.83L295.33 1088.38L296.55 1085.92L297.81 1083.47L299.14 1081.01L300.52 1078.56L301.97 1076.1L303.5 1073.65L305.1 1071.19L306.78 1068.74L307.66 1067.51L308.56 1066.28L309.48 1065.06L310.42 1063.83L311.4 1062.6L312.4 1061.37L313.42 1060.15L314.48 1058.92L315.56 1057.69L316.68 1056.46L317.82 1055.24L319 1054.01L320.22 1052.78L321.47 1051.55L322.75 1050.33L324.07 1049.1L325.43 1047.87L326.84 1046.64L328.28 1045.42L329.77 1044.19L331.3 1042.96L332.88 1041.73L334.5 1040.51L336.18 1039.28L337.9 1038.05L339.68 1036.82L341.52 1035.6L343.41 1034.37L345.35 1033.14L347.36 1031.91L349.44 1030.69L351.57 1029.46L353.78 1028.23L356.05 1027L358.4 1025.77L360.82 1024.55L363.31 1023.32L365.89 1022.09L368.54 1020.86L371.28 1019.64L374.11 1018.41L377.03 1017.18L380.04 1015.95L383.15 1014.73L386.35 1013.5L389.66 1012.27L393.08 1011.04L396.6 1009.82L400.24 1008.59L404 1007.36L407.87 1006.13L411.87 1004.91L416 1003.68L420.26 1002.45L424.66 1001.22L429.2 1000L433.89 998.77L438.72 997.54L443.72 996.31L448.87 995.09L454.19 993.86L459.68 992.63L465.35 991.4L471.19 990.18L477.23 988.95L483.46 987.72L489.89 986.49L496.53 985.27L503.38 984.04L510.45 982.81L517.75 981.58L525.28 980.36L533.05 979.13L541.07 977.9L549.34 976.67L557.88 975.45L566.69 974.22L575.79 972.99L585.17 971.76L594.85 970.54L604.84 969.31L615.14 968.08L625.77 966.85L636.74 965.63L648.06 964.4L659.73 963.17L671.77 961.94L684.19 960.72L697 959.49L710.22 958.26L723.85 957.03L737.91 955.8L752.41 954.58L767.36 953.35L782.78 952.12L798.69 950.89L815.09 949.67L832 948.44L849.43 947.21L867.41 945.98L885.94 944.76L905.05 943.53L924.75 942.3L945.06 941.07L947.1 940.95" stroke="#27aae1" stroke-width="5.0" fill="none" stroke-linejoin="round" stroke-linecap="butt" clip-path="url(#clipC)"/>
<path d="M271.31 1163.5L271.75 1161.69L272.19 1159.89L272.64 1158.08L273.09 1156.28L273.54 1154.47L274 1152.67L274.46 1150.86L274.92 1149.06L275.39 1147.25L275.86 1145.45L276.33 1143.64L276.82 1141.84L277.3 1140.03L277.79 1138.23L278.29 1136.42L278.79 1134.62L279.3 1132.81L279.81 1131.01L280.33 1129.2L280.86 1127.4L281.4 1125.59L281.95 1123.79L282.5 1121.98L283.07 1120.18L283.64 1118.37L284.23 1116.57L284.82 1114.76L285.43 1112.96L286.05 1111.15L286.69 1109.35L287.33 1107.54L288 1105.74L288.68 1103.93L289.37 1102.13L290.09 1100.32L290.82 1098.52L291.57 1096.71L292.34 1094.91L293.14 1093.1L293.96 1091.3L294.8 1089.49L295.45 1088.14L296.11 1086.79L296.8 1085.43L297.49 1084.08L298.21 1082.73L298.94 1081.37L299.69 1080.02L300.46 1078.66L301.25 1077.31L302.06 1075.96L302.9 1074.6L303.75 1073.25L304.63 1071.9L305.54 1070.54L306.47 1069.19L307.43 1067.83L308.41 1066.48L309.42 1065.13L310.47 1063.77L311.54 1062.42L312.65 1061.07L313.79 1059.71L314.97 1058.36L316.18 1057L317.43 1055.65L318.72 1054.3L320.05 1052.94L321.43 1051.59L322.85 1050.24L324.31 1048.88L325.82 1047.53L327.38 1046.17L328.99 1044.82L330.66 1043.47L332.38 1042.11L334.16 1040.76L335.38 1039.86L336.63 1038.95L337.9 1038.05L339.2 1037.15L340.53 1036.25L341.9 1035.34L343.29 1034.44L344.71 1033.54L346.17 1032.64L347.66 1031.73L349.19 1030.83L350.75 1029.93L352.34 1029.03L353.97 1028.12L355.64 1027.22L357.35 1026.32L359.09 1025.42L360.88 1024.51L362.71 1023.61L364.58 1022.71L366.5 1021.81L368.46 1020.9L370.46 1020L372.51 1019.1L374.61 1018.2L376.76 1017.29L378.96 1016.39L381.21 1015.49L383.51 1014.59L385.86 1013.68L388.28 1012.78L390.74 1011.88L393.27 1010.98L395.85 1010.07L398.5 1009.17L401.21 1008.27L403.98 1007.37L406.82 1006.46L408.26 1006.01L409.72 1005.56L411.2 1005.11L412.69 1004.66L414.21 1004.21L415.73 1003.76L417.28 1003.31L418.85 1002.85L420.43 1002.4L422.04 1001.95L423.66 1001.5L425.3 1001.05L426.96 1000.6L428.64 1000.15L430.34 999.7L432.05 999.24L433.79 998.79L435.55 998.34L437.33 997.89L439.13 997.44L440.95 996.99L442.8 996.54L444.66 996.09L446.55 995.63L448.46 995.18L450.39 994.73L452.34 994.28L454.32 993.83L456.32 993.38L458.34 992.93L460.39 992.48L462.46 992.02L464.55 991.57L466.67 991.12L468.82 990.67L470.99 990.22L473.18 989.77L475.4 989.32L477.65 988.87L479.92 988.41L482.22 987.96L484.54 987.51L486.9 987.06L489.28 986.61L491.69 986.16L494.12 985.71L496.59 985.26L499.08 984.8L501.61 984.35L504.16 983.9L506.74 983.45L509.35 983L511.99 982.55L514.67 982.1L517.37 981.65L520.11 981.19L522.88 980.74L525.68 980.29L528.51 979.84L531.38 979.39L534.27 978.94L537.21 978.49L540.17 978.04L543.18 977.58L546.21 977.13L549.28 976.68L552.39 976.23L555.53 975.78L558.71 975.33L561.93 974.88L565.19 974.43L568.48 973.97L571.81 973.52L575.18 973.07L578.58 972.62L582.03 972.17L585.52 971.72L589.05 971.27L592.61 970.82L596.22 970.36L599.87 969.91L603.57 969.46L607.3 969.01L611.08 968.56L614.91 968.11L618.77 967.66L622.68 967.21L626.64 966.75L630.64 966.3L634.69 965.85L638.79 965.4L642.93 964.95L647.12 964.5L651.36 964.05L655.64 963.6L659.98 963.14L664.37 962.69L668.8 962.24L673.29 961.79L677.83 961.34L682.42 960.89L687.06 960.44L691.76 959.99L696.51 959.53L701.32 959.08L706.18 958.63L711.09 958.18L716.06 957.73L721.09 957.28L726.18 956.83L731.32 956.38L736.53 955.92L741.79 955.47L747.11 955.02L752.49 954.57L757.94 954.12L763.44 953.67L769.01 953.22L774.65 952.77L780.34 952.31L786.1 951.86L791.93 951.41L797.82 950.96L803.78 950.51L809.81 950.06L815.91 949.61L822.07 949.16L828.31 948.7L834.61 948.25L840.99 947.8L847.44 947.35L853.96 946.9L860.56 946.45L867.23 946L873.98 945.55L880.8 945.09L887.7 944.64L894.67 944.19L901.73 943.74L908.86 943.29L916.08 942.84L923.38 942.39L930.75 941.94L938.22 941.48L945.76 941.03L947.1 940.95" stroke="#6c3b97" stroke-width="6.0" fill="none" stroke-linejoin="round" stroke-dasharray="17 26.3" stroke-linecap="round" clip-path="url(#clipC)"/>
<path d="M166.4 1628.5L166.95 1626.04L167.5 1623.59L168.05 1621.13L168.61 1618.68L169.16 1616.22L169.71 1613.77L170.26 1611.31L170.81 1608.86L171.36 1606.4L171.91 1603.95L172.46 1601.49L173.02 1599.04L173.57 1596.58L174.12 1594.13L174.67 1591.67L175.22 1589.22L175.77 1586.76L176.32 1584.31L176.87 1581.85L177.43 1579.4L177.98 1576.94L178.53 1574.49L179.08 1572.03L179.63 1569.58L180.18 1567.12L180.73 1564.67L181.28 1562.21L181.84 1559.76L182.39 1557.3L182.94 1554.85L183.49 1552.39L184.04 1549.94L184.59 1547.48L185.14 1545.03L185.69 1542.57L186.25 1540.12L186.8 1537.66L187.35 1535.21L187.9 1532.75L188.45 1530.3L189 1527.84L189.56 1525.39L190.11 1522.93L190.66 1520.48L191.21 1518.02L191.76 1515.57L192.32 1513.11L192.87 1510.66L193.42 1508.2L193.98 1505.75L194.53 1503.29L195.08 1500.84L195.64 1498.38L196.19 1495.93L196.74 1493.47L197.3 1491.01L197.85 1488.56L198.41 1486.1L198.96 1483.65L199.52 1481.19L200.08 1478.74L200.63 1476.28L201.19 1473.83L201.75 1471.37L202.31 1468.92L202.87 1466.46L203.43 1464.01L203.99 1461.55L204.56 1459.1L205.12 1456.64L205.69 1454.19L206.25 1451.73L206.82 1449.28L207.39 1446.82L207.96 1444.37L208.53 1441.91L209.11 1439.46L209.68 1437L210.26 1434.55L210.84 1432.09L211.42 1429.64L212.01 1427.18L212.59 1424.73L213.18 1422.27L213.78 1419.82L214.37 1417.36L214.97 1414.91L215.57 1412.45L216.18 1410L216.79 1407.54L217.41 1405.09L218.02 1402.63L218.65 1400.18L219.27 1397.72L219.91 1395.27L220.55 1392.81L221.19 1390.36L221.84 1387.9L222.5 1385.45L223.16 1382.99L223.83 1380.54L224.5 1378.08L225.19 1375.63L225.88 1373.17L226.58 1370.72L227.29 1368.26L228.01 1365.81L228.74 1363.35L229.48 1360.89L230.23 1358.44L230.99 1355.98L231.76 1353.53L232.54 1351.07L233.34 1348.62L234.15 1346.16L234.98 1343.71L235.82 1341.25L236.67 1338.8L237.54 1336.34L238.43 1333.89L239.33 1331.43L240.26 1328.98L241.2 1326.52L242.16 1324.07L243.14 1321.61L244.14 1319.16L245.17 1316.7L246.21 1314.25L247.28 1311.79L248.38 1309.34L249.5 1306.88L250.65 1304.43L251.83 1301.97L253.03 1299.52L254.27 1297.06L255.54 1294.61L256.84 1292.15L258.17 1289.7L259.54 1287.24L260.94 1284.79L262.39 1282.33L263.87 1279.88L265.39 1277.42L266.95 1274.97L268.56 1272.51L270.21 1270.06L271.91 1267.6L272.77 1266.37L273.65 1265.15L274.54 1263.92L275.45 1262.69L276.36 1261.46L277.29 1260.24L278.23 1259.01L279.19 1257.78L280.16 1256.55L281.15 1255.33L282.14 1254.1L283.16 1252.87L284.18 1251.64L285.23 1250.42L286.28 1249.19L287.36 1247.96L288.45 1246.73L289.55 1245.51L290.67 1244.28L291.81 1243.05L292.96 1241.82L294.13 1240.6L295.32 1239.37L296.53 1238.14L297.75 1236.91L298.99 1235.69L300.25 1234.46L301.53 1233.23L302.82 1232L304.14 1230.78L305.48 1229.55L306.83 1228.32L308.21 1227.09L309.61 1225.86L311.02 1224.64L312.46 1223.41L313.92 1222.18L315.4 1220.95L316.91 1219.73L318.43 1218.5L319.98 1217.27L321.55 1216.04L323.15 1214.82L324.77 1213.59L326.41 1212.36L328.08 1211.13L329.77 1209.91L331.49 1208.68L333.24 1207.45L335.01 1206.22L336.8 1205L338.63 1203.77L340.48 1202.54L342.35 1201.31L344.26 1200.09L346.19 1198.86L348.16 1197.63L350.15 1196.4L352.17 1195.18L354.22 1193.95L356.31 1192.72L358.42 1191.49L360.56 1190.27L362.74 1189.04L364.95 1187.81L367.19 1186.58L369.47 1185.36L371.77 1184.13L374.12 1182.9L376.49 1181.67L378.91 1180.45L381.36 1179.22L383.84 1177.99L386.36 1176.76L388.92 1175.54L391.51 1174.31L394.15 1173.08L396.82 1171.85L399.53 1170.63L402.28 1169.4L405.07 1168.17L407.9 1166.94L410.78 1165.72L413.69 1164.49L416.65 1163.26L419.65 1162.03L422.69 1160.81L425.78 1159.58L428.91 1158.35L432.09 1157.12L435.32 1155.89L438.59 1154.67L441.9 1153.44L445.27 1152.21L448.68 1150.98L452.15 1149.76L455.66 1148.53L459.22 1147.3L462.84 1146.07L466.5 1144.85L470.22 1143.62L473.99 1142.39L477.81 1141.16L481.69 1139.94L485.62 1138.71L489.61 1137.48L493.66 1136.25L497.76 1135.03L501.92 1133.8L506.14 1132.57L510.42 1131.34L514.76 1130.12L519.16 1128.89L523.62 1127.66L528.14 1126.43L532.72 1125.21L537.37 1123.98L542.09 1122.75L546.87 1121.52L551.71 1120.3L556.63 1119.07L561.61 1117.84L566.66 1116.61L571.78 1115.39L576.96 1114.16L582.22 1112.93L587.56 1111.7L592.96 1110.48L598.44 1109.25L604 1108.02L609.62 1106.79L615.33 1105.57L621.11 1104.34L626.98 1103.11L632.92 1101.88L638.94 1100.66L645.04 1099.43L651.22 1098.2L657.49 1096.97L663.84 1095.75L670.28 1094.52L676.8 1093.29L683.41 1092.06L690.1 1090.83L696.89 1089.61L703.77 1088.38L710.73 1087.15L717.79 1085.92L724.94 1084.7L732.19 1083.47L739.53 1082.24L746.97 1081.01L754.51 1079.79L762.14 1078.56L769.87 1077.33L777.71 1076.1L785.64 1074.88L793.68 1073.65L801.83 1072.42L810.08 1071.19L818.43 1069.97L826.89 1068.74L835.47 1067.51L844.15 1066.28L852.94 1065.06L861.85 1063.83L870.87 1062.6L880 1061.37L889.26 1060.15L898.63 1058.92L908.11 1057.69L917.72 1056.46L927.45 1055.24L937.3 1054.01L947.1 1052.8" stroke="#fdb913" stroke-width="5.0" fill="none" stroke-linejoin="round" stroke-linecap="butt" clip-path="url(#clipC)"/>
<path d="M215.15 1414.2L215.57 1412.46L216 1410.72L216.43 1408.98L216.87 1407.24L217.3 1405.5L217.74 1403.76L218.18 1402.02L218.62 1400.28L219.06 1398.54L219.51 1396.8L219.96 1395.06L220.41 1393.33L220.87 1391.59L221.32 1389.85L221.78 1388.11L222.25 1386.37L222.72 1384.63L223.19 1382.89L223.66 1381.15L224.14 1379.41L224.62 1377.67L225.1 1375.93L225.59 1374.19L226.09 1372.45L226.58 1370.71L227.08 1368.97L227.59 1367.23L228.1 1365.49L228.62 1363.75L229.14 1362.01L229.67 1360.27L230.2 1358.53L230.74 1356.79L231.28 1355.05L231.83 1353.32L232.38 1351.58L232.95 1349.84L233.51 1348.1L234.09 1346.36L234.67 1344.62L235.26 1342.88L235.86 1341.14L236.46 1339.4L237.07 1337.66L237.69 1335.92L238.32 1334.18L238.96 1332.44L239.61 1330.7L240.26 1328.96L240.93 1327.22L241.6 1325.48L242.29 1323.74L242.98 1322L243.69 1320.26L244.4 1318.52L245.13 1316.78L245.87 1315.04L246.62 1313.31L247.38 1311.57L248.16 1309.83L248.95 1308.09L249.75 1306.35L250.57 1304.61L251.4 1302.87L252.24 1301.13L253.1 1299.39L253.97 1297.65L254.86 1295.91L255.77 1294.17L256.69 1292.43L257.63 1290.69L258.58 1288.95L259.56 1287.21L260.55 1285.47L261.56 1283.73L262.59 1281.99L263.64 1280.25L264.71 1278.51L265.8 1276.77L266.91 1275.03L268.04 1273.3L269.19 1271.56L270.37 1269.82L271.57 1268.08L272.8 1266.34L274.05 1264.6L275.32 1262.86L276.62 1261.12L277.95 1259.38L279.3 1257.64L280.68 1255.9L282.09 1254.16L283.53 1252.42L285 1250.68L286.5 1248.94L288.03 1247.2L289.59 1245.46L291.18 1243.72L292.81 1241.98L294.47 1240.24L296.17 1238.5L297.9 1236.76L299.67 1235.02L301.47 1233.29L303.31 1231.55L305.19 1229.81L307.12 1228.07L309.08 1226.33L311.08 1224.59L313.13 1222.85L315.22 1221.11L317.35 1219.37L319.53 1217.63L321.75 1215.89L324.03 1214.15L326.35 1212.41L328.72 1210.67L331.14 1208.93L332.37 1208.06L333.61 1207.19L334.86 1206.32L336.13 1205.45L337.41 1204.58L338.71 1203.71L340.02 1202.84L341.34 1201.97L342.68 1201.1L344.03 1200.23L345.39 1199.36L346.77 1198.49L348.17 1197.62L349.58 1196.75L351 1195.88L352.44 1195.01L353.89 1194.14L355.36 1193.28L356.85 1192.41L358.35 1191.54L359.86 1190.67L361.39 1189.8L362.94 1188.93L364.51 1188.06L366.09 1187.19L367.68 1186.32L369.3 1185.45L370.93 1184.58L372.57 1183.71L374.24 1182.84L375.92 1181.97L377.62 1181.1L379.34 1180.23L381.07 1179.36L382.83 1178.49L384.6 1177.62L386.39 1176.75L388.2 1175.88L390.03 1175.01L391.87 1174.14L393.74 1173.27L395.62 1172.4L397.53 1171.53L399.45 1170.66L401.4 1169.79L403.36 1168.92L405.34 1168.05L407.35 1167.18L409.37 1166.31L411.42 1165.44L413.49 1164.57L415.58 1163.7L417.69 1162.83L419.82 1161.96L421.97 1161.09L424.15 1160.22L426.35 1159.35L428.57 1158.48L430.81 1157.61L433.08 1156.74L435.37 1155.87L437.68 1155L440.02 1154.13L442.38 1153.27L444.76 1152.4L447.17 1151.53L449.61 1150.66L452.06 1149.79L454.55 1148.92L457.06 1148.05L459.59 1147.18L462.15 1146.31L464.73 1145.44L467.34 1144.57L469.98 1143.7L472.64 1142.83L475.33 1141.96L478.05 1141.09L480.8 1140.22L483.57 1139.35L486.37 1138.48L489.2 1137.61L492.05 1136.74L494.94 1135.87L497.85 1135L500.79 1134.13L503.77 1133.26L506.77 1132.39L509.8 1131.52L512.86 1130.65L515.95 1129.78L519.08 1128.91L522.23 1128.04L525.41 1127.17L528.63 1126.3L531.88 1125.43L535.16 1124.56L538.47 1123.69L541.81 1122.82L545.19 1121.95L548.6 1121.08L552.04 1120.21L555.52 1119.34L559.03 1118.47L562.58 1117.6L566.16 1116.73L569.77 1115.86L573.42 1114.99L577.11 1114.12L580.83 1113.26L584.59 1112.39L588.38 1111.52L592.21 1110.65L596.08 1109.78L599.98 1108.91L603.92 1108.04L607.9 1107.17L611.92 1106.3L615.98 1105.43L620.07 1104.56L624.21 1103.69L628.38 1102.82L632.6 1101.95L636.85 1101.08L641.15 1100.21L645.49 1099.34L649.86 1098.47L654.28 1097.6L658.74 1096.73L663.25 1095.86L667.79 1094.99L672.38 1094.12L677.01 1093.25L681.69 1092.38L686.41 1091.51L691.17 1090.64L695.98 1089.77L700.84 1088.9L705.73 1088.03L710.68 1087.16L715.67 1086.29L720.71 1085.42L725.79 1084.55L730.93 1083.68L736.11 1082.81L741.34 1081.94L746.61 1081.07L751.94 1080.2L757.31 1079.33L762.74 1078.46L768.21 1077.59L773.74 1076.72L779.31 1075.85L784.94 1074.98L790.62 1074.11L796.35 1073.25L802.14 1072.38L807.97 1071.51L813.86 1070.64L819.81 1069.77L825.81 1068.9L831.86 1068.03L837.97 1067.16L844.13 1066.29L850.35 1065.42L856.62 1064.55L862.96 1063.68L869.34 1062.81L875.79 1061.94L882.3 1061.07L888.86 1060.2L895.48 1059.33L902.17 1058.46L908.91 1057.59L915.71 1056.72L922.57 1055.85L929.5 1054.98L936.49 1054.11L943.53 1053.24L947.1 1052.8" stroke="#ec1c24" stroke-width="6.0" fill="none" stroke-linejoin="round" stroke-dasharray="17 26.3" stroke-linecap="round" clip-path="url(#clipC)"/>
<path d="M166.4 1163.5H947.1" stroke="#6c3b97" stroke-width="2.8" fill="none" clip-path="url(#clipC)"/>
<path d="M166.4 1414.2H947.1" stroke="#ec1c24" stroke-width="2.8" fill="none" clip-path="url(#clipC)"/>
<g fill="#fff" stroke="#231f20" stroke-width="3"><circle cx="187.6" cy="1535.4" r="8.3"/><circle cx="251" cy="1303.2" r="8.3"/><circle cx="315.2" cy="1226.2" r="8.3"/><circle cx="379" cy="1181.9" r="8.3"/><circle cx="435.7" cy="1152.4" r="8.3"/><circle cx="478.4" cy="1139.4" r="8.3"/><circle cx="528.2" cy="1126.9" r="8.3"/><circle cx="584.7" cy="1113.9" r="8.3"/><circle cx="641.8" cy="1102.6" r="8.3"/><circle cx="705.7" cy="1089.8" r="8.3"/><circle cx="762.6" cy="1080.9" r="8.3"/><circle cx="826.5" cy="1069.6" r="8.3"/><circle cx="890" cy="1060.6" r="8.3"/></g>
<g class="tick"><text x="144.9" y="1636.7" text-anchor="end">0</text><text x="144.9" y="1544.79" text-anchor="end">50</text><text x="144.9" y="1452.88" text-anchor="end">100</text><text x="144.9" y="1360.96" text-anchor="end">150</text><text x="144.9" y="1269.05" text-anchor="end">200</text><text x="144.9" y="1177.14" text-anchor="end">250</text><text x="144.9" y="1085.23" text-anchor="end">300</text><text x="144.9" y="993.31" text-anchor="end">350</text><text x="144.9" y="901.4" text-anchor="end">400</text><text x="166.9" y="1667" text-anchor="middle">0</text><text x="308.85" y="1667" text-anchor="middle">0.002</text><text x="450.79" y="1667" text-anchor="middle">0.004</text><text x="592.74" y="1667" text-anchor="middle">0.006</text><text x="734.68" y="1667" text-anchor="middle">0.008</text><text x="876.63" y="1667" text-anchor="middle">0.01</text></g>
<text class="ttl" x="556.3" y="1702.8" text-anchor="middle">Total strain</text>
<text class="ttl" transform="translate(91.2 1260.85) rotate(-90)" text-anchor="middle">Stress (MPa)</text>
<rect x="641.3" y="1140.2" width="265.7" height="417.4" fill="#fff" stroke="#231f20" stroke-width="1.4"/>
<path d="M688.3 1166.6H739.3" stroke="#1bb04b" stroke-width="5.0" stroke-linecap="round"/>
<path d="M688.3 1218.8H739.3" stroke="#27aae1" stroke-width="5.0" stroke-linecap="round"/>
<path d="M688.8 1271H738.8" stroke="#6c3b97" stroke-width="6.0" stroke-linecap="round" stroke-dasharray="17 26.3"/>
<path d="M686.8 1323.2H740.8" stroke="#6c3b97" stroke-width="2.8"/>
<circle cx="713.8" cy="1375.4" r="7.2" fill="#fff" stroke="#231f20" stroke-width="3"/>
<path d="M688.3 1427.6H739.3" stroke="#fdb913" stroke-width="5.0" stroke-linecap="round"/>
<path d="M688.8 1479.8H738.8" stroke="#ec1c24" stroke-width="6.0" stroke-linecap="round" stroke-dasharray="17 26.3"/>
<path d="M686.8 1532H740.8" stroke="#ec1c24" stroke-width="2.8"/>
<g class="leg"><text x="745.7" y="1175.2">elastic</text><text x="745.7" y="1227.4">R-O mono</text><text x="745.7" y="1279.6">Ch. mono</text><text x="745.7" y="1331.8">σy mono</text><text x="745.7" y="1384">cyclic data</text><text x="745.7" y="1436.2">R-O cyclic</text><text x="745.7" y="1488.4">Ch. cyclic</text><text x="745.7" y="1540.6">σy cyclic</text></g>
<path d="M1175.5 1508.88H1958.7M1175.5 1385.77H1958.7M1175.5 1262.65H1958.7M1175.5 1139.53H1958.7M1175.5 1016.42H1958.7M1175.5 893.3H1958.7M1316.67 1630.5V893.3M1459.35 1630.5V893.3M1602.02 1630.5V893.3M1744.69 1630.5V893.3M1887.36 1630.5V893.3" stroke="#a6a8ab" stroke-width="1.1" stroke-dasharray="3 3" fill="none"/>
<path d="M1174 892.1V1632H1959.9M1166 1632H1174M1166 1508.88H1174M1166 1385.77H1174M1166 1262.65H1174M1166 1139.53H1174M1166 1016.42H1174M1166 893.3H1174M1174 1632V1639.5M1316.67 1632V1639.5M1459.35 1632V1639.5M1602.02 1632V1639.5M1744.69 1632V1639.5M1887.36 1632V1639.5" stroke="#231f20" stroke-width="2.8" fill="none" stroke-linecap="butt" stroke-linejoin="miter"/>
<path d="M1174 1632L1309.7 893.3" stroke="#1bb04b" stroke-width="5.0" fill="none" stroke-linejoin="round" stroke-linecap="butt" clip-path="url(#clipD)"/>
<path d="M1174 1632L1174.45 1629.53L1174.91 1627.07L1175.36 1624.6L1175.81 1622.13L1176.27 1619.67L1176.72 1617.2L1177.17 1614.73L1177.62 1612.27L1178.08 1609.8L1178.53 1607.34L1178.98 1604.87L1179.44 1602.4L1179.89 1599.94L1180.34 1597.47L1180.8 1595L1181.25 1592.54L1181.7 1590.07L1182.16 1587.6L1182.61 1585.14L1183.06 1582.67L1183.51 1580.2L1183.97 1577.74L1184.42 1575.27L1184.87 1572.81L1185.33 1570.34L1185.78 1567.87L1186.23 1565.41L1186.69 1562.94L1187.14 1560.47L1187.59 1558.01L1188.05 1555.54L1188.5 1553.07L1188.95 1550.61L1189.41 1548.14L1189.86 1545.67L1190.31 1543.21L1190.76 1540.74L1191.22 1538.28L1191.67 1535.81L1192.12 1533.34L1192.58 1530.88L1193.03 1528.41L1193.48 1525.94L1193.94 1523.48L1194.39 1521.01L1194.84 1518.54L1195.3 1516.08L1195.75 1513.61L1196.2 1511.14L1196.65 1508.68L1197.11 1506.21L1197.56 1503.74L1198.01 1501.28L1198.47 1498.81L1198.92 1496.35L1199.37 1493.88L1199.83 1491.41L1200.28 1488.95L1200.73 1486.48L1201.19 1484.01L1201.64 1481.55L1202.09 1479.08L1202.54 1476.61L1203 1474.15L1203.45 1471.68L1203.9 1469.21L1204.36 1466.75L1204.81 1464.28L1205.26 1461.82L1205.72 1459.35L1206.17 1456.88L1206.62 1454.42L1207.08 1451.95L1207.53 1449.48L1207.98 1447.02L1208.43 1444.55L1208.89 1442.08L1209.34 1439.62L1209.79 1437.15L1210.25 1434.68L1210.7 1432.22L1211.15 1429.75L1211.61 1427.29L1212.06 1424.82L1212.51 1422.35L1212.97 1419.89L1213.42 1417.42L1213.87 1414.95L1214.32 1412.49L1214.78 1410.02L1215.23 1407.55L1215.68 1405.09L1216.14 1402.62L1216.59 1400.15L1217.04 1397.69L1217.5 1395.22L1217.95 1392.75L1218.4 1390.29L1218.86 1387.82L1219.31 1385.36L1219.76 1382.89L1220.22 1380.42L1220.67 1377.96L1221.12 1375.49L1221.57 1373.02L1222.03 1370.56L1222.48 1368.09L1222.93 1365.62L1223.39 1363.16L1223.84 1360.69L1224.29 1358.22L1224.75 1355.76L1225.2 1353.29L1225.65 1350.83L1226.11 1348.36L1226.56 1345.89L1227.01 1343.43L1227.46 1340.96L1227.92 1338.49L1228.37 1336.03L1228.82 1333.56L1229.28 1331.09L1229.73 1328.63L1230.18 1326.16L1230.64 1323.69L1231.09 1321.23L1231.54 1318.76L1232 1316.3L1232.45 1313.83L1232.9 1311.36L1233.35 1308.9L1233.81 1306.43L1234.26 1303.96L1234.71 1301.5L1235.17 1299.03L1235.62 1296.56L1236.07 1294.1L1236.53 1291.63L1236.98 1289.16L1237.43 1286.7L1237.89 1284.23L1238.34 1281.76L1238.79 1279.3L1239.24 1276.83L1239.7 1274.37L1240.15 1271.9L1240.6 1269.43L1241.06 1266.97L1241.51 1264.5L1241.96 1262.03L1242.42 1259.57L1242.87 1257.1L1243.32 1254.63L1243.78 1252.17L1244.23 1249.7L1244.68 1247.23L1245.14 1244.77L1245.59 1242.3L1246.04 1239.84L1246.5 1237.37L1246.95 1234.9L1247.4 1232.44L1247.86 1229.97L1248.31 1227.5L1248.77 1225.04L1249.22 1222.57L1249.67 1220.1L1250.13 1217.64L1250.58 1215.17L1251.04 1212.7L1251.49 1210.24L1251.95 1207.77L1252.4 1205.31L1252.86 1202.84L1253.31 1200.37L1253.77 1197.91L1254.23 1195.44L1254.68 1192.97L1255.14 1190.51L1255.6 1188.04L1256.06 1185.57L1256.52 1183.11L1256.98 1180.64L1257.44 1178.17L1257.9 1175.71L1258.37 1173.24L1258.83 1170.77L1259.3 1168.31L1259.77 1165.84L1260.24 1163.38L1260.72 1160.91L1261.19 1158.44L1261.67 1155.98L1262.15 1153.51L1262.64 1151.04L1263.13 1148.58L1263.62 1146.11L1264.12 1143.64L1264.63 1141.18L1265.14 1138.71L1265.66 1136.24L1266.18 1133.78L1266.72 1131.31L1267.26 1128.85L1267.81 1126.38L1268.38 1123.91L1268.96 1121.45L1269.55 1118.98L1270.16 1116.51L1270.79 1114.05L1271.44 1111.58L1272.11 1109.11L1272.81 1106.65L1273.53 1104.18L1274.28 1101.71L1275.06 1099.25L1275.88 1096.78L1276.74 1094.32L1277.65 1091.85L1278.61 1089.38L1279.61 1086.92L1280.68 1084.45L1281.82 1081.98L1283.03 1079.52L1284.31 1077.05L1285.69 1074.58L1287.16 1072.12L1288.74 1069.65L1290.44 1067.18L1291.33 1065.95L1292.26 1064.72L1293.23 1063.48L1294.23 1062.25L1295.27 1061.02L1296.35 1059.78L1297.48 1058.55L1298.65 1057.32L1299.86 1056.09L1301.13 1054.85L1302.45 1053.62L1303.82 1052.39L1305.24 1051.15L1306.73 1049.92L1308.27 1048.69L1309.89 1047.45L1311.56 1046.22L1313.31 1044.99L1315.14 1043.75L1317.04 1042.52L1319.02 1041.29L1321.09 1040.05L1323.24 1038.82L1325.49 1037.59L1327.84 1036.35L1330.29 1035.12L1332.84 1033.89L1335.5 1032.65L1338.28 1031.42L1341.18 1030.19L1344.21 1028.95L1347.37 1027.72L1350.67 1026.49L1354.11 1025.25L1357.71 1024.02L1361.46 1022.79L1365.38 1021.56L1369.47 1020.32L1373.73 1019.09L1378.19 1017.86L1382.85 1016.62L1387.7 1015.39L1392.78 1014.16L1398.07 1012.92L1403.6 1011.69L1409.37 1010.46L1415.4 1009.22L1421.69 1007.99L1428.26 1006.76L1435.12 1005.52L1442.28 1004.29L1449.75 1003.06L1457.56 1001.82L1465.7 1000.59L1474.2 999.36L1483.08 998.12L1492.34 996.89L1502.01 995.66L1512.09 994.42L1522.63 993.19L1533.61 991.96L1545.08 990.72L1557.05 989.49L1569.54 988.26L1582.57 987.02L1596.16 985.79L1610.34 984.56L1625.14 983.33L1640.58 982.09L1656.68 980.86L1673.47 979.63L1690.99 978.39L1709.26 977.16L1728.32 975.93L1748.19 974.69L1768.91 973.46L1790.52 972.23L1813.05 970.99L1836.54 969.76L1861.03 968.53L1886.55 967.29L1913.17 966.06L1940.9 964.83L1958.7 964.06" stroke="#27aae1" stroke-width="5.0" fill="none" stroke-linejoin="round" stroke-linecap="butt" clip-path="url(#clipD)"/>
<path d="M1264.97 1139.53L1265.31 1137.89L1265.66 1136.24L1266.01 1134.6L1266.36 1132.96L1266.72 1131.31L1267.08 1129.67L1267.44 1128.02L1267.81 1126.38L1268.19 1124.73L1268.57 1123.09L1268.96 1121.45L1269.35 1119.8L1269.76 1118.16L1270.16 1116.51L1270.58 1114.87L1271.01 1113.22L1271.44 1111.58L1271.89 1109.94L1272.34 1108.29L1272.81 1106.65L1273.28 1105L1273.77 1103.36L1274.28 1101.71L1274.8 1100.07L1275.33 1098.43L1275.88 1096.78L1276.45 1095.14L1277.04 1093.49L1277.65 1091.85L1278.28 1090.2L1278.94 1088.56L1279.61 1086.92L1280.32 1085.27L1281.05 1083.63L1281.82 1081.98L1282.62 1080.34L1283.45 1078.69L1284.31 1077.05L1285.22 1075.41L1286.17 1073.76L1287.16 1072.12L1288.2 1070.47L1289.29 1068.83L1290.44 1067.18L1291.33 1065.95L1292.26 1064.72L1293.23 1063.48L1294.23 1062.25L1295.27 1061.02L1296.35 1059.78L1297.48 1058.55L1298.65 1057.32L1299.86 1056.09L1301.13 1054.85L1302.45 1053.62L1303.82 1052.39L1305.24 1051.15L1306.73 1049.92L1308.27 1048.69L1309.89 1047.45L1311.56 1046.22L1313.31 1044.99L1315.14 1043.75L1316.4 1042.93L1317.69 1042.11L1319.02 1041.29L1320.39 1040.46L1321.8 1039.64L1323.24 1038.82L1324.73 1038L1326.26 1037.18L1327.84 1036.35L1329.46 1035.53L1331.12 1034.71L1332.84 1033.89L1334.6 1033.07L1336.42 1032.24L1338.28 1031.42L1340.2 1030.6L1342.18 1029.78L1344.21 1028.95L1346.3 1028.13L1348.46 1027.31L1350.67 1026.49L1352.95 1025.67L1355.29 1024.84L1357.71 1024.02L1360.19 1023.2L1362.75 1022.38L1365.38 1021.56L1368.08 1020.73L1370.87 1019.91L1373.73 1019.09L1375.2 1018.68L1376.68 1018.27L1378.19 1017.86L1379.72 1017.44L1381.27 1017.03L1382.85 1016.62L1384.44 1016.21L1386.06 1015.8L1387.7 1015.39L1389.37 1014.98L1391.06 1014.57L1392.78 1014.16L1394.52 1013.74L1396.28 1013.33L1398.07 1012.92L1399.89 1012.51L1401.73 1012.1L1403.6 1011.69L1405.5 1011.28L1407.42 1010.87L1409.37 1010.46L1411.35 1010.05L1413.36 1009.63L1415.4 1009.22L1417.47 1008.81L1419.57 1008.4L1421.69 1007.99L1423.85 1007.58L1426.04 1007.17L1428.26 1006.76L1430.52 1006.35L1432.8 1005.93L1435.12 1005.52L1437.47 1005.11L1439.86 1004.7L1442.28 1004.29L1444.74 1003.88L1447.23 1003.47L1449.75 1003.06L1452.32 1002.65L1454.92 1002.23L1457.56 1001.82L1460.23 1001.41L1462.95 1001L1465.7 1000.59L1468.49 1000.18L1471.33 999.77L1474.2 999.36L1477.12 998.95L1480.07 998.53L1483.08 998.12L1486.12 997.71L1489.21 997.3L1492.34 996.89L1495.51 996.48L1498.74 996.07L1502.01 995.66L1505.32 995.25L1508.68 994.84L1512.09 994.42L1515.56 994.01L1519.07 993.6L1522.63 993.19L1526.24 992.78L1529.9 992.37L1533.61 991.96L1537.38 991.55L1541.21 991.14L1545.08 990.72L1549.02 990.31L1553 989.9L1557.05 989.49L1561.15 989.08L1565.32 988.67L1569.54 988.26L1573.82 987.85L1578.16 987.44L1582.57 987.02L1587.03 986.61L1591.57 986.2L1596.16 985.79L1600.82 985.38L1605.55 984.97L1610.34 984.56L1615.21 984.15L1620.14 983.74L1625.14 983.33L1630.21 982.91L1635.36 982.5L1640.58 982.09L1645.87 981.68L1651.24 981.27L1656.68 980.86L1662.2 980.45L1667.8 980.04L1673.47 979.63L1679.23 979.21L1685.07 978.8L1690.99 978.39L1697 977.98L1703.09 977.57L1709.26 977.16L1715.53 976.75L1721.88 976.34L1728.32 975.93L1734.85 975.51L1741.47 975.1L1748.19 974.69L1755 974.28L1761.91 973.87L1768.91 973.46L1776.01 973.05L1783.22 972.64L1790.52 972.23L1797.92 971.82L1805.43 971.4L1813.05 970.99L1820.77 970.58L1828.6 970.17L1836.54 969.76L1844.59 969.35L1852.75 968.94L1861.03 968.53L1869.42 968.12L1877.93 967.7L1886.55 967.29L1895.3 966.88L1904.17 966.47L1913.17 966.06L1922.28 965.65L1931.53 965.24L1940.9 964.83L1950.41 964.42L1958.7 964.06" stroke="#6c3b97" stroke-width="6.0" fill="none" stroke-linejoin="round" stroke-dasharray="17 26.3" stroke-linecap="round" clip-path="url(#clipD)"/>
<path d="M1174 1632L1174.45 1629.53L1174.91 1627.07L1175.36 1624.6L1175.81 1622.13L1176.27 1619.67L1176.72 1617.2L1177.17 1614.73L1177.62 1612.27L1178.08 1609.8L1178.53 1607.34L1178.98 1604.87L1179.44 1602.4L1179.89 1599.94L1180.34 1597.47L1180.8 1595L1181.25 1592.54L1181.7 1590.07L1182.16 1587.6L1182.61 1585.14L1183.06 1582.67L1183.51 1580.2L1183.97 1577.74L1184.42 1575.27L1184.87 1572.81L1185.33 1570.34L1185.78 1567.87L1186.23 1565.41L1186.69 1562.94L1187.14 1560.47L1187.59 1558.01L1188.05 1555.54L1188.5 1553.07L1188.95 1550.61L1189.41 1548.14L1189.86 1545.67L1190.31 1543.21L1190.76 1540.74L1191.22 1538.28L1191.67 1535.81L1192.12 1533.34L1192.58 1530.88L1193.03 1528.41L1193.48 1525.94L1193.94 1523.48L1194.39 1521.01L1194.84 1518.54L1195.3 1516.08L1195.75 1513.61L1196.2 1511.14L1196.66 1508.68L1197.11 1506.21L1197.56 1503.74L1198.02 1501.28L1198.47 1498.81L1198.92 1496.35L1199.38 1493.88L1199.83 1491.41L1200.28 1488.95L1200.74 1486.48L1201.19 1484.01L1201.65 1481.55L1202.1 1479.08L1202.55 1476.61L1203.01 1474.15L1203.46 1471.68L1203.92 1469.21L1204.37 1466.75L1204.83 1464.28L1205.28 1461.82L1205.74 1459.35L1206.19 1456.88L1206.65 1454.42L1207.11 1451.95L1207.56 1449.48L1208.02 1447.02L1208.48 1444.55L1208.94 1442.08L1209.39 1439.62L1209.85 1437.15L1210.31 1434.68L1210.77 1432.22L1211.23 1429.75L1211.7 1427.29L1212.16 1424.82L1212.62 1422.35L1213.08 1419.89L1213.55 1417.42L1214.01 1414.95L1214.48 1412.49L1214.95 1410.02L1215.42 1407.55L1215.89 1405.09L1216.36 1402.62L1216.83 1400.15L1217.31 1397.69L1217.78 1395.22L1218.26 1392.75L1218.74 1390.29L1219.22 1387.82L1219.71 1385.36L1220.2 1382.89L1220.68 1380.42L1221.18 1377.96L1221.67 1375.49L1222.17 1373.02L1222.67 1370.56L1223.17 1368.09L1223.68 1365.62L1224.19 1363.16L1224.7 1360.69L1225.22 1358.22L1225.74 1355.76L1226.27 1353.29L1226.8 1350.83L1227.34 1348.36L1227.88 1345.89L1228.43 1343.43L1228.98 1340.96L1229.54 1338.49L1230.11 1336.03L1230.69 1333.56L1231.27 1331.09L1231.85 1328.63L1232.45 1326.16L1233.06 1323.69L1233.67 1321.23L1234.29 1318.76L1234.93 1316.3L1235.57 1313.83L1236.22 1311.36L1236.89 1308.9L1237.56 1306.43L1238.25 1303.96L1238.95 1301.5L1239.67 1299.03L1240.4 1296.56L1241.14 1294.1L1241.9 1291.63L1242.68 1289.16L1243.47 1286.7L1244.28 1284.23L1245.1 1281.76L1245.95 1279.3L1246.82 1276.83L1247.71 1274.37L1248.62 1271.9L1249.55 1269.43L1250.5 1266.97L1251.48 1264.5L1252.49 1262.03L1253.52 1259.57L1254.58 1257.1L1255.67 1254.63L1256.79 1252.17L1257.94 1249.7L1259.13 1247.23L1260.34 1244.77L1261.59 1242.3L1262.88 1239.84L1264.21 1237.37L1265.58 1234.9L1266.98 1232.44L1268.43 1229.97L1269.93 1227.5L1271.46 1225.04L1273.05 1222.57L1274.69 1220.1L1276.38 1217.64L1277.24 1216.4L1278.12 1215.17L1279.01 1213.94L1279.91 1212.7L1280.83 1211.47L1281.76 1210.24L1282.71 1209L1283.67 1207.77L1284.65 1206.54L1285.65 1205.31L1286.66 1204.07L1287.68 1202.84L1288.72 1201.61L1289.78 1200.37L1290.86 1199.14L1291.95 1197.91L1293.06 1196.67L1294.19 1195.44L1295.34 1194.21L1296.5 1192.97L1297.69 1191.74L1298.89 1190.51L1300.11 1189.27L1301.36 1188.04L1302.62 1186.81L1303.9 1185.57L1305.21 1184.34L1306.53 1183.11L1307.88 1181.87L1309.25 1180.64L1310.64 1179.41L1312.05 1178.17L1313.49 1176.94L1314.95 1175.71L1316.43 1174.47L1317.94 1173.24L1319.47 1172.01L1321.03 1170.77L1322.61 1169.54L1324.22 1168.31L1325.85 1167.08L1327.52 1165.84L1329.2 1164.61L1330.92 1163.38L1332.66 1162.14L1334.44 1160.91L1336.24 1159.68L1338.07 1158.44L1339.93 1157.21L1341.82 1155.98L1343.74 1154.74L1345.69 1153.51L1347.68 1152.28L1349.69 1151.04L1351.74 1149.81L1353.82 1148.58L1355.94 1147.34L1358.09 1146.11L1360.27 1144.88L1362.5 1143.64L1364.75 1142.41L1367.04 1141.18L1369.37 1139.94L1371.74 1138.71L1374.15 1137.48L1376.59 1136.24L1379.07 1135.01L1381.6 1133.78L1384.16 1132.55L1386.77 1131.31L1389.41 1130.08L1392.1 1128.85L1394.83 1127.61L1397.61 1126.38L1400.43 1125.15L1403.3 1123.91L1406.21 1122.68L1409.16 1121.45L1412.17 1120.21L1415.22 1118.98L1418.32 1117.75L1421.47 1116.51L1424.67 1115.28L1427.92 1114.05L1431.22 1112.81L1434.57 1111.58L1437.98 1110.35L1441.44 1109.11L1444.95 1107.88L1448.52 1106.65L1452.14 1105.41L1455.82 1104.18L1459.56 1102.95L1463.36 1101.71L1467.22 1100.48L1471.13 1099.25L1475.11 1098.01L1479.15 1096.78L1483.25 1095.55L1487.41 1094.32L1491.64 1093.08L1495.94 1091.85L1500.3 1090.62L1504.72 1089.38L1509.22 1088.15L1513.78 1086.92L1518.42 1085.68L1523.12 1084.45L1527.9 1083.22L1532.75 1081.98L1537.67 1080.75L1542.67 1079.52L1547.75 1078.28L1552.9 1077.05L1558.13 1075.82L1563.43 1074.58L1568.82 1073.35L1574.29 1072.12L1579.84 1070.88L1585.48 1069.65L1591.2 1068.42L1597 1067.18L1602.89 1065.95L1608.87 1064.72L1614.94 1063.48L1621.1 1062.25L1627.35 1061.02L1633.69 1059.78L1640.13 1058.55L1646.66 1057.32L1653.29 1056.09L1660.01 1054.85L1666.84 1053.62L1673.76 1052.39L1680.79 1051.15L1687.91 1049.92L1695.15 1048.69L1702.48 1047.45L1709.93 1046.22L1717.48 1044.99L1725.14 1043.75L1732.92 1042.52L1740.8 1041.29L1748.8 1040.05L1756.92 1038.82L1765.15 1037.59L1773.5 1036.35L1781.97 1035.12L1790.56 1033.89L1799.27 1032.65L1808.11 1031.42L1817.07 1030.19L1826.16 1028.95L1835.38 1027.72L1844.73 1026.49L1854.22 1025.25L1863.83 1024.02L1873.58 1022.79L1883.47 1021.56L1893.5 1020.32L1903.67 1019.09L1913.98 1017.86L1924.44 1016.62L1935.04 1015.39L1945.79 1014.16L1956.68 1012.92L1958.7 1012.7" stroke="#fdb913" stroke-width="5.0" fill="none" stroke-linejoin="round" stroke-linecap="butt" clip-path="url(#clipD)"/>
<path d="M1223.58 1366.1L1223.91 1364.52L1224.23 1362.94L1224.56 1361.36L1224.89 1359.79L1225.22 1358.21L1225.56 1356.63L1225.89 1355.05L1226.23 1353.47L1226.57 1351.89L1226.91 1350.31L1227.26 1348.74L1227.6 1347.16L1227.95 1345.58L1228.3 1344L1228.66 1342.42L1229.01 1340.84L1229.37 1339.26L1229.73 1337.68L1230.09 1336.11L1230.46 1334.53L1230.83 1332.95L1231.2 1331.37L1231.58 1329.79L1231.95 1328.21L1232.34 1326.63L1232.72 1325.06L1233.11 1323.48L1233.5 1321.9L1233.9 1320.32L1234.3 1318.74L1234.7 1317.16L1235.11 1315.58L1235.52 1314.01L1235.94 1312.43L1236.36 1310.85L1236.78 1309.27L1237.22 1307.69L1237.65 1306.11L1238.09 1304.53L1238.54 1302.95L1238.99 1301.38L1239.44 1299.8L1239.91 1298.22L1240.37 1296.64L1240.85 1295.06L1241.33 1293.48L1241.81 1291.9L1242.31 1290.33L1242.81 1288.75L1243.31 1287.17L1243.83 1285.59L1244.35 1284.01L1244.88 1282.43L1245.42 1280.85L1245.96 1279.28L1246.51 1277.7L1247.07 1276.12L1247.64 1274.54L1248.22 1272.96L1248.81 1271.38L1249.41 1269.8L1250.01 1268.22L1250.63 1266.65L1251.26 1265.07L1251.89 1263.49L1252.54 1261.91L1253.2 1260.33L1253.87 1258.75L1254.55 1257.17L1255.24 1255.6L1255.95 1254.02L1256.67 1252.44L1257.4 1250.86L1258.14 1249.28L1258.9 1247.7L1259.67 1246.12L1260.45 1244.55L1261.25 1242.97L1262.07 1241.39L1262.9 1239.81L1263.74 1238.23L1264.6 1236.65L1265.48 1235.07L1266.37 1233.49L1267.28 1231.92L1268.21 1230.34L1269.16 1228.76L1270.12 1227.18L1271.11 1225.6L1272.11 1224.02L1273.13 1222.44L1274.18 1220.87L1275.24 1219.29L1276.33 1217.71L1277.43 1216.13L1278.56 1214.55L1279.71 1212.97L1280.89 1211.39L1282.09 1209.82L1283.31 1208.24L1284.56 1206.66L1285.83 1205.08L1287.13 1203.5L1288.46 1201.92L1289.81 1200.34L1291.19 1198.77L1292.6 1197.19L1294.04 1195.61L1295.5 1194.03L1297 1192.45L1298.53 1190.87L1300.09 1189.29L1301.69 1187.71L1303.31 1186.14L1304.98 1184.56L1306.67 1182.98L1308.4 1181.4L1310.17 1179.82L1311.97 1178.24L1313.81 1176.66L1315.69 1175.09L1317.61 1173.51L1319.57 1171.93L1321.57 1170.35L1323.61 1168.77L1325.7 1167.19L1327.83 1165.61L1330 1164.04L1332.22 1162.46L1334.48 1160.88L1336.79 1159.3L1339.15 1157.72L1341.56 1156.14L1344.02 1154.56L1346.53 1152.98L1349.1 1151.41L1350.4 1150.62L1351.71 1149.83L1353.04 1149.04L1354.38 1148.25L1355.74 1147.46L1357.11 1146.67L1358.49 1145.88L1359.89 1145.09L1361.31 1144.3L1362.73 1143.51L1364.18 1142.72L1365.63 1141.93L1367.11 1141.15L1368.59 1140.36L1370.1 1139.57L1371.61 1138.78L1373.15 1137.99L1374.7 1137.2L1376.26 1136.41L1377.84 1135.62L1379.44 1134.83L1381.06 1134.04L1382.69 1133.25L1384.33 1132.46L1386 1131.67L1387.68 1130.88L1389.38 1130.09L1391.09 1129.31L1392.83 1128.52L1394.58 1127.73L1396.35 1126.94L1398.14 1126.15L1399.94 1125.36L1401.76 1124.57L1403.61 1123.78L1405.47 1122.99L1407.35 1122.2L1409.25 1121.41L1411.16 1120.62L1413.1 1119.83L1415.06 1119.04L1417.04 1118.25L1419.03 1117.47L1421.05 1116.68L1423.09 1115.89L1425.15 1115.1L1427.22 1114.31L1429.32 1113.52L1431.44 1112.73L1433.59 1111.94L1435.75 1111.15L1437.94 1110.36L1440.14 1109.57L1442.37 1108.78L1444.63 1107.99L1446.9 1107.2L1449.2 1106.42L1451.52 1105.63L1453.86 1104.84L1456.23 1104.05L1458.62 1103.26L1461.03 1102.47L1463.47 1101.68L1465.93 1100.89L1468.42 1100.1L1470.93 1099.31L1473.47 1098.52L1476.03 1097.73L1478.61 1096.94L1481.23 1096.15L1483.87 1095.36L1486.53 1094.58L1489.22 1093.79L1491.94 1093L1494.68 1092.21L1497.45 1091.42L1500.25 1090.63L1503.08 1089.84L1505.93 1089.05L1508.81 1088.26L1511.72 1087.47L1514.66 1086.68L1517.62 1085.89L1520.62 1085.1L1523.64 1084.31L1526.7 1083.53L1529.78 1082.74L1532.9 1081.95L1536.04 1081.16L1539.21 1080.37L1542.42 1079.58L1545.66 1078.79L1548.92 1078L1552.22 1077.21L1555.55 1076.42L1558.92 1075.63L1562.31 1074.84L1565.74 1074.05L1569.2 1073.26L1572.7 1072.47L1576.23 1071.69L1579.79 1070.9L1583.38 1070.11L1587.02 1069.32L1590.68 1068.53L1594.38 1067.74L1598.12 1066.95L1601.89 1066.16L1605.7 1065.37L1609.54 1064.58L1613.42 1063.79L1617.34 1063L1621.29 1062.21L1625.28 1061.42L1629.31 1060.63L1633.38 1059.85L1637.48 1059.06L1641.63 1058.27L1645.81 1057.48L1650.03 1056.69L1654.3 1055.9L1658.6 1055.11L1662.94 1054.32L1667.33 1053.53L1671.75 1052.74L1676.22 1051.95L1680.72 1051.16L1685.27 1050.37L1689.87 1049.58L1694.5 1048.8L1699.18 1048.01L1703.9 1047.22L1708.67 1046.43L1713.48 1045.64L1718.33 1044.85L1723.23 1044.06L1728.18 1043.27L1733.17 1042.48L1738.2 1041.69L1743.29 1040.9L1748.42 1040.11L1753.59 1039.32L1758.82 1038.53L1764.09 1037.74L1769.41 1036.96L1774.78 1036.17L1780.2 1035.38L1785.67 1034.59L1791.18 1033.8L1796.75 1033.01L1802.37 1032.22L1808.04 1031.43L1813.76 1030.64L1819.54 1029.85L1825.36 1029.06L1831.24 1028.27L1837.17 1027.48L1843.16 1026.69L1849.2 1025.91L1855.29 1025.12L1861.44 1024.33L1867.65 1023.54L1873.91 1022.75L1880.22 1021.96L1886.6 1021.17L1893.03 1020.38L1899.51 1019.59L1906.06 1018.8L1912.66 1018.01L1919.33 1017.22L1926.05 1016.43L1932.83 1015.64L1939.68 1014.85L1946.58 1014.07L1953.54 1013.28L1958.7 1012.7" stroke="#ec1c24" stroke-width="6.0" fill="none" stroke-linejoin="round" stroke-dasharray="17 26.3" stroke-linecap="round" clip-path="url(#clipD)"/>
<path d="M1174 1139.53H1958.7" stroke="#6c3b97" stroke-width="2.8" fill="none" clip-path="url(#clipD)"/>
<path d="M1174 1366.1H1958.7" stroke="#ec1c24" stroke-width="2.8" fill="none" clip-path="url(#clipD)"/>
<g fill="#fff" stroke="#231f20" stroke-width="3"><circle cx="1195.1" cy="1516.3" r="8.3"/><circle cx="1259.8" cy="1243.2" r="8.3"/><circle cx="1338" cy="1162" r="8.3"/><circle cx="1401.6" cy="1124.8" r="8.3"/><circle cx="1466" cy="1102.8" r="8.3"/><circle cx="1508.9" cy="1087.7" r="8.3"/><circle cx="1552" cy="1077.8" r="8.3"/><circle cx="1622.8" cy="1071.1" r="8.3"/><circle cx="1679.9" cy="1048.4" r="8.3"/><circle cx="1743.7" cy="1041.1" r="8.3"/><circle cx="1814.9" cy="1029.2" r="8.3"/><circle cx="1879.1" cy="1016.5" r="8.3"/><circle cx="1936.3" cy="1011.6" r="8.3"/></g>
<g class="tick"><text x="1152.5" y="1640.2" text-anchor="end">0</text><text x="1152.5" y="1517.08" text-anchor="end">50</text><text x="1152.5" y="1393.97" text-anchor="end">100</text><text x="1152.5" y="1270.85" text-anchor="end">150</text><text x="1152.5" y="1147.73" text-anchor="end">200</text><text x="1152.5" y="1024.62" text-anchor="end">250</text><text x="1152.5" y="901.5" text-anchor="end">300</text><text x="1174.5" y="1670.5" text-anchor="middle">0</text><text x="1317.17" y="1670.5" text-anchor="middle">0.002</text><text x="1459.85" y="1670.5" text-anchor="middle">0.004</text><text x="1602.52" y="1670.5" text-anchor="middle">0.006</text><text x="1745.19" y="1670.5" text-anchor="middle">0.008</text><text x="1887.86" y="1670.5" text-anchor="middle">0.01</text></g>
<text class="ttl" x="1565" y="1705.6" text-anchor="middle">Total strain</text>
<text class="ttl" transform="translate(1098.2 1262.65) rotate(-90)" text-anchor="middle">Stress (MPa)</text>
<rect x="1657.7" y="1110.7" width="260.1" height="419.7" fill="#fff" stroke="#231f20" stroke-width="1.4"/>
<path d="M1701.1 1137.1H1752.4" stroke="#1bb04b" stroke-width="5.0" stroke-linecap="round"/>
<path d="M1701.1 1189.5H1752.4" stroke="#27aae1" stroke-width="5.0" stroke-linecap="round"/>
<path d="M1701.6 1241.9H1751.9" stroke="#6c3b97" stroke-width="6.0" stroke-linecap="round" stroke-dasharray="17 26.3"/>
<path d="M1699.6 1294.3H1753.9" stroke="#6c3b97" stroke-width="2.8"/>
<circle cx="1726.75" cy="1346.7" r="7.2" fill="#fff" stroke="#231f20" stroke-width="3"/>
<path d="M1701.1 1399.1H1752.4" stroke="#fdb913" stroke-width="5.0" stroke-linecap="round"/>
<path d="M1701.6 1451.5H1751.9" stroke="#ec1c24" stroke-width="6.0" stroke-linecap="round" stroke-dasharray="17 26.3"/>
<path d="M1699.6 1503.9H1753.9" stroke="#ec1c24" stroke-width="2.8"/>
<g class="leg"><text x="1758.8" y="1145.7">elastic</text><text x="1758.8" y="1198.1">R-O mono</text><text x="1758.8" y="1250.5">Ch. mono</text><text x="1758.8" y="1302.9">σy mono</text><text x="1758.8" y="1355.3">cyclic data</text><text x="1758.8" y="1407.7">R-O cyclic</text><text x="1758.8" y="1460.1">Ch. cyclic</text><text x="1758.8" y="1512.5">σy cyclic</text></g>
<g class="pl"><text x="-0.6" y="840.8">a<tspan font-size="40" dx="0.6" dy="-3">)</tspan></text><text x="1002.6" y="838.6">b<tspan font-size="40" dx="0.6" dy="-3">)</tspan></text><text x="24.2" y="1712.6">c<tspan font-size="40" dx="0.6" dy="-3">)</tspan></text><text x="1027.4" y="1714.5">d<tspan font-size="40" dx="0.6" dy="-3">)</tspan></text></g>
</svg>
</body></html>
